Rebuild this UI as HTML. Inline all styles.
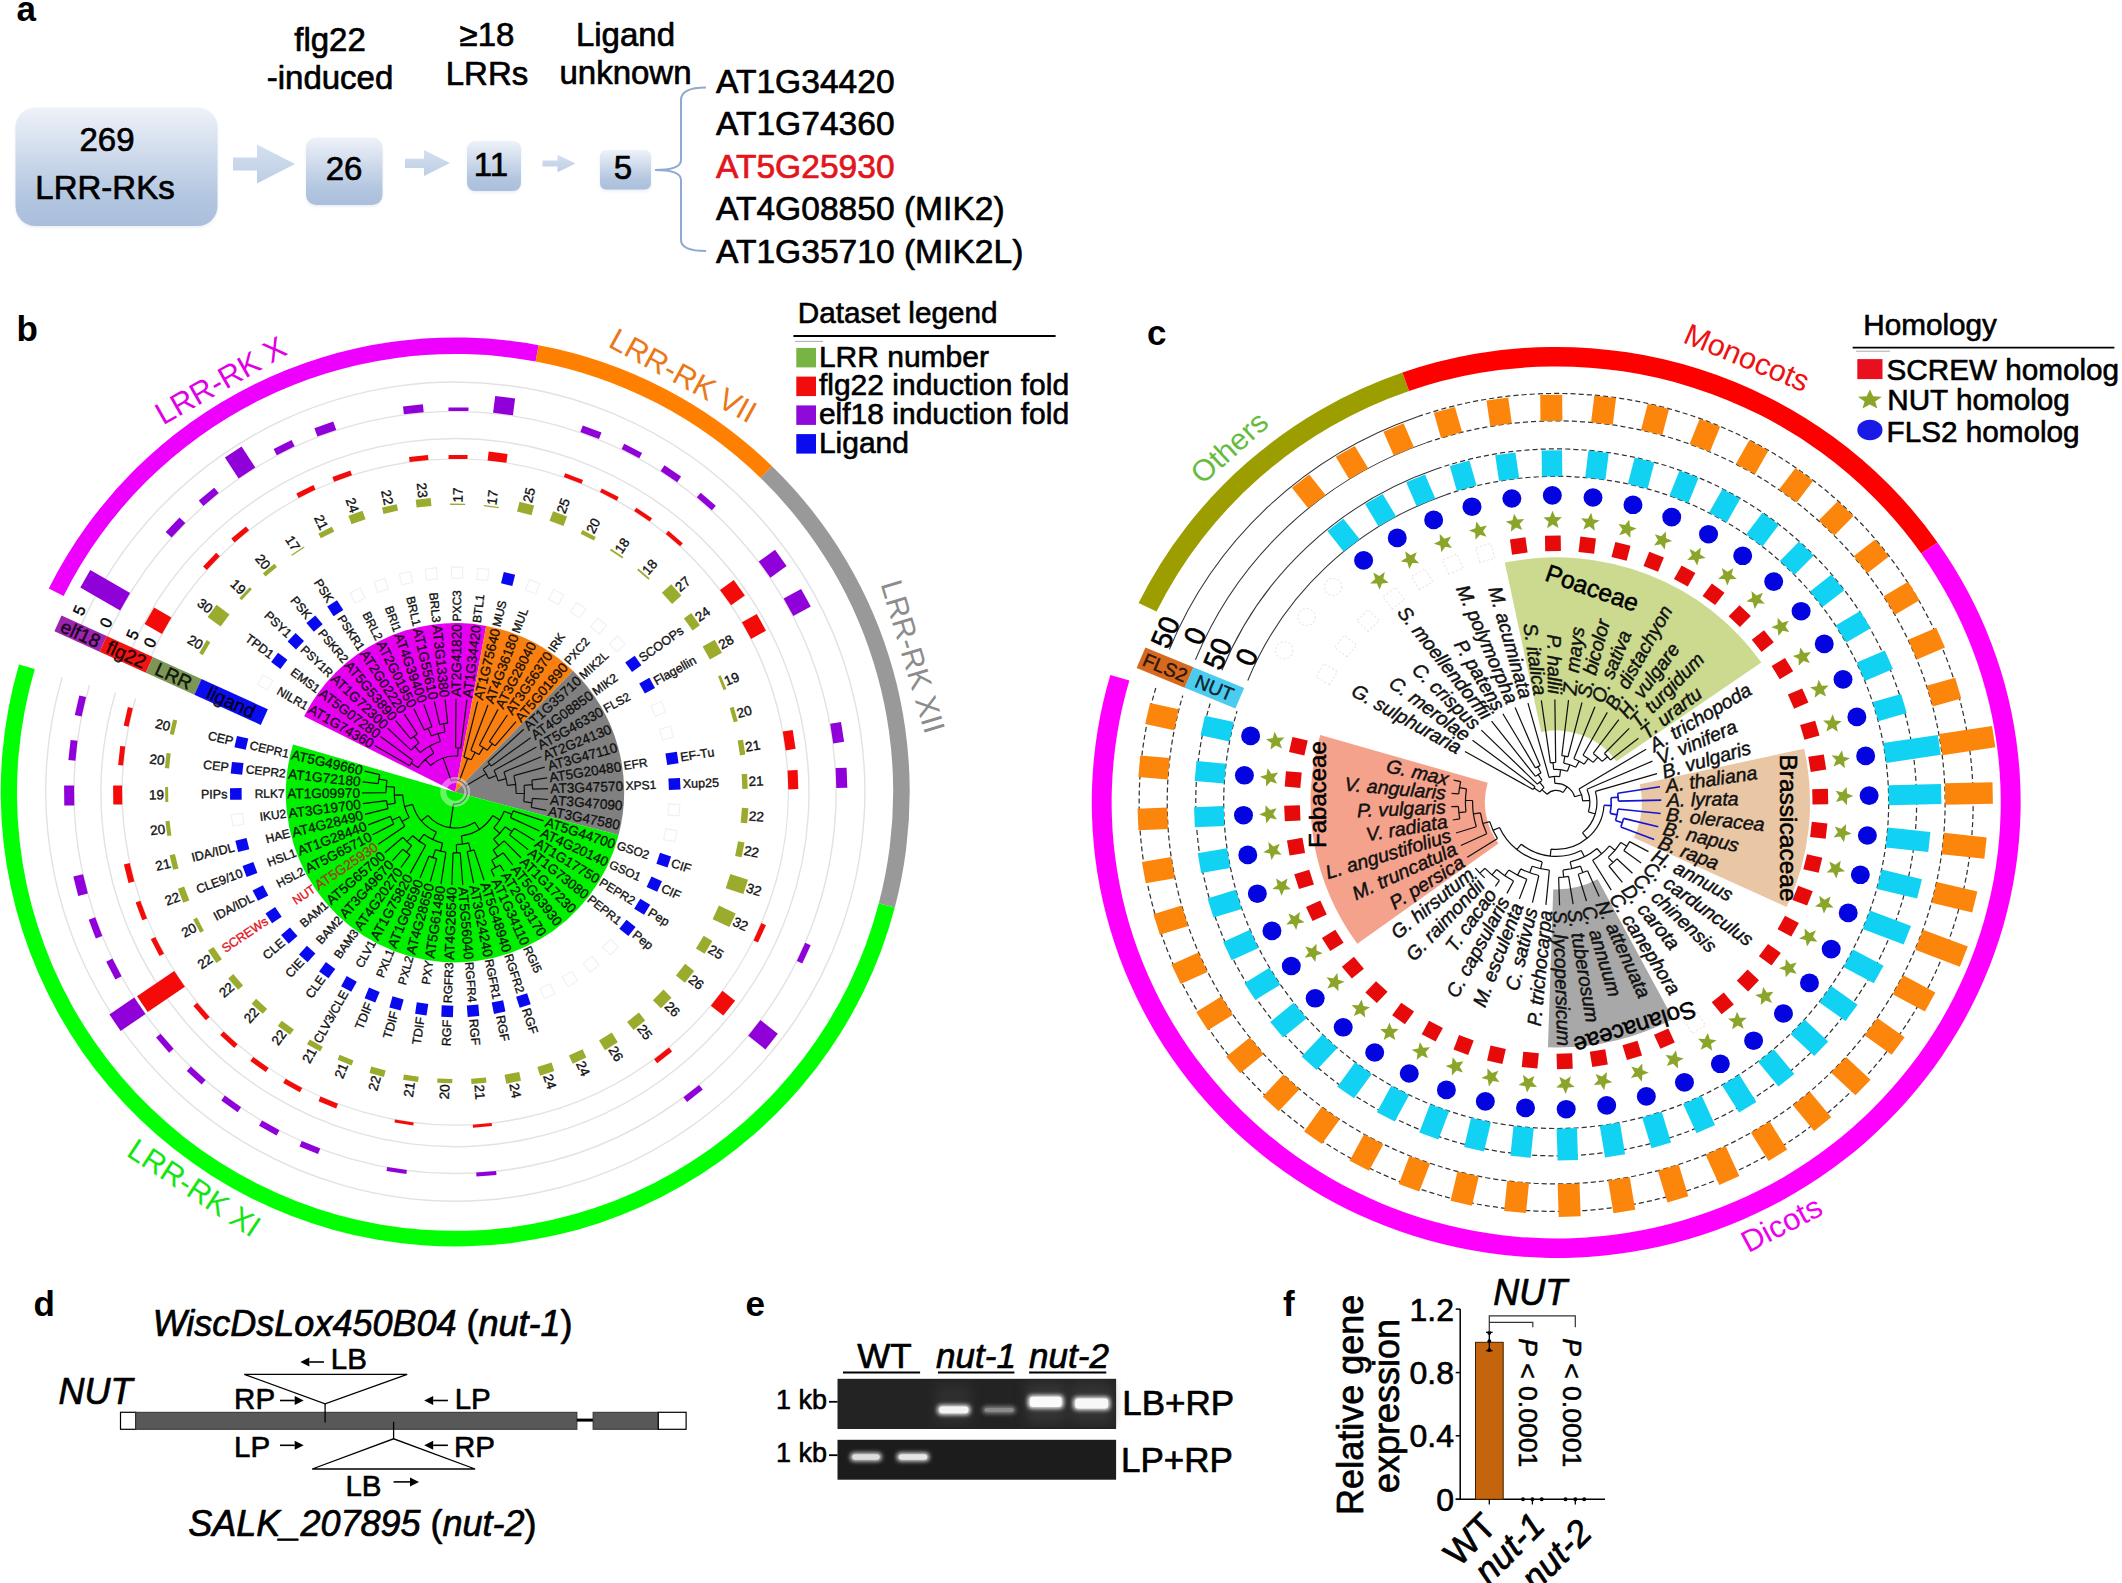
<!DOCTYPE html>
<html><head><meta charset="utf-8"><title>Figure</title>
<style>html,body{margin:0;padding:0;background:#fff;}svg{display:block;}
text{font-family:"Liberation Sans",Arial,sans-serif;}</style></head>
<body><svg width="2122" height="1583" viewBox="0 0 2122 1583">
<rect width="2122" height="1583" fill="#fff"/>
<defs><linearGradient id="gbox" x1="0" y1="0" x2="0" y2="1"><stop offset="0" stop-color="#eef2f9"/><stop offset="0.75" stop-color="#b3c6e0"/><stop offset="1" stop-color="#aabfdc"/></linearGradient><linearGradient id="garr" x1="0" y1="0" x2="0" y2="1"><stop offset="0" stop-color="#d5e0ef"/><stop offset="1" stop-color="#bccde5"/></linearGradient><filter id="soft" x="-10%" y="-10%" width="120%" height="130%"><feGaussianBlur stdDeviation="1.5"/></filter></defs>
<text x="16.5" y="20.5" font-size="35" font-weight="bold">a</text>
<rect x="15.5" y="109.5" width="202" height="118.5" rx="20" fill="#dfe6f1" opacity="0.6" filter="url(#soft)"/>
<rect x="15.5" y="107.5" width="202" height="118.5" rx="20" fill="url(#gbox)"/>
<rect x="306" y="139.5" width="76.5" height="67.5" rx="10" fill="#dfe6f1" opacity="0.6" filter="url(#soft)"/>
<rect x="306" y="137.5" width="76.5" height="67.5" rx="10" fill="url(#gbox)"/>
<rect x="467" y="143" width="54" height="50" rx="8" fill="#dfe6f1" opacity="0.6" filter="url(#soft)"/>
<rect x="467" y="141" width="54" height="50" rx="8" fill="url(#gbox)"/>
<rect x="600" y="152" width="51" height="39.5" rx="6" fill="#dfe6f1" opacity="0.6" filter="url(#soft)"/>
<rect x="600" y="150" width="51" height="39.5" rx="6" fill="url(#gbox)"/>
<path d="M233,157.5 L257,157.5 L257,144.5 L295,164 L257,183.5 L257,170.5 L233,170.5 Z" fill="url(#garr)"/>
<path d="M405,158.8 L424,158.8 L424,150 L450,163 L424,176 L424,168 L405,168 Z" fill="url(#garr)"/>
<path d="M542.5,160.6 L557.5,160.6 L557.5,154.8 L575.5,163.6 L557.5,172.3 L557.5,166.6 L542.5,166.6 Z" fill="url(#garr)"/>
<text x="107" y="151" font-size="33" text-anchor="middle" stroke="#000" stroke-width="0.68" stroke-linejoin="round">269</text>
<text x="105" y="199" font-size="33" text-anchor="middle" stroke="#000" stroke-width="0.68" stroke-linejoin="round">LRR-RKs</text>
<text x="344" y="180" font-size="33" text-anchor="middle" stroke="#000" stroke-width="0.68" stroke-linejoin="round">26</text>
<text x="491" y="176" font-size="33" text-anchor="middle" stroke="#000" stroke-width="0.68" stroke-linejoin="round">11</text>
<text x="623" y="179" font-size="33" text-anchor="middle" stroke="#000" stroke-width="0.68" stroke-linejoin="round">5</text>
<text x="330" y="51" font-size="33" text-anchor="middle" stroke="#000" stroke-width="0.68" stroke-linejoin="round">flg22</text>
<text x="330" y="89" font-size="33" text-anchor="middle" stroke="#000" stroke-width="0.68" stroke-linejoin="round">-induced</text>
<text x="487" y="46" font-size="33" text-anchor="middle" stroke="#000" stroke-width="0.68" stroke-linejoin="round">≥18</text>
<text x="487" y="85" font-size="33" text-anchor="middle" stroke="#000" stroke-width="0.68" stroke-linejoin="round">LRRs</text>
<text x="625.5" y="46" font-size="33" text-anchor="middle" stroke="#000" stroke-width="0.68" stroke-linejoin="round">Ligand</text>
<text x="625.5" y="84" font-size="33" text-anchor="middle" stroke="#000" stroke-width="0.68" stroke-linejoin="round">unknown</text>
<text x="716" y="92.5" font-size="33.6" fill="#000" stroke="#000" stroke-width="0.69" stroke-linejoin="round">AT1G34420</text>
<text x="716" y="135" font-size="33.6" fill="#000" stroke="#000" stroke-width="0.69" stroke-linejoin="round">AT1G74360</text>
<text x="716" y="177.5" font-size="33.6" fill="#e3151b" stroke="#e3151b" stroke-width="0.69" stroke-linejoin="round">AT5G25930</text>
<text x="716" y="220" font-size="33.6" fill="#000" stroke="#000" stroke-width="0.69" stroke-linejoin="round">AT4G08850 (MIK2)</text>
<text x="716" y="262.5" font-size="33.6" fill="#000" stroke="#000" stroke-width="0.69" stroke-linejoin="round">AT1G35710 (MIK2L)</text>
<path d="M706,87.5 Q681,87.5 681,100 L681,160 Q681,170 655,170 Q681,170 681,180 L681,240 Q681,251 706,251" fill="none" stroke="#8fa9cf" stroke-width="2"/>
<text x="16.5" y="341" font-size="35" font-weight="bold">b</text>
<path d="M455.2,792 L304.1,716.3 A169,169 0 0 1 486.2,625.9 Z" fill="#e600f0" />
<path d="M455.2,792 L486.2,625.9 A169,169 0 0 1 573,670.8 Z" fill="#f98010" />
<path d="M455.2,792 L573,670.8 A169,169 0 0 1 618.6,835 Z" fill="#808080" />
<path d="M455.2,792 L618.6,835 A169,169 0 1 1 293,744.6 Z" fill="#00f000" />
<path d="M48.8,588.5 A454.5,454.5 0 0 1 538.6,345.2 L535.6,361.4 A438,438 0 0 0 63.6,595.9 Z" fill="#ee00ff" />
<path d="M538.6,345.2 A454.5,454.5 0 0 1 772.1,466.2 L760.6,478 A438,438 0 0 0 535.6,361.4 Z" fill="#ff8000" />
<path d="M772.1,466.2 A454.5,454.5 0 0 1 894.8,907.5 L878.8,903.3 A438,438 0 0 0 760.6,478 Z" fill="#999999" />
<path d="M894.8,907.5 A454.5,454.5 0 1 1 19,664.4 L34.8,669.1 A438,438 0 1 0 878.8,903.3 Z" fill="#00ff00" />
<path d="M148.2,663 A333,333 0 1 1 135.6,698.5" fill="none" stroke="#e2e2e2" stroke-width="1.4"/>
<path d="M128.9,654.8 A354,354 0 1 1 115.4,692.6" fill="none" stroke="#e2e2e2" stroke-width="1.4"/>
<path d="M104,644.4 A381,381 0 1 1 89.5,685.1" fill="none" stroke="#e2e2e2" stroke-width="1.4"/>
<path d="M77.7,633.3 A409.5,409.5 0 1 1 62.2,677.1" fill="none" stroke="#e2e2e2" stroke-width="1.4"/>
<path d="M409.6,765.7L374.6,745.6 M413,760.6L380.6,736.4 M409.6,765.7 A52.6,52.6 0 0 1 413,760.6 M418.2,767.7L411.2,763.1 M411,750.1L387.6,728.1 M410.8,738.9L395.6,720.6 M417.4,734.1L404.4,714.1 M410.8,738.9 A69.2,69.2 0 0 1 417.4,734.1 M419,743L414,736.4 M411,750.1 A60.9,60.9 0 0 1 419,743 M420.3,752.6L414.8,746.4 M424.4,730L413.8,708.7 M431.9,726.8L423.9,704.4 M424.4,730 A69.2,69.2 0 0 1 431.9,726.8 M431.4,736L428.1,728.3 M439.7,724.6L434.3,701.4 M447.7,723.2L445.1,699.6 M439.7,724.6 A69.2,69.2 0 0 1 447.7,723.2 M445,732L443.7,723.8 M431.4,736 A60.9,60.9 0 0 1 445,732 M440.4,741.5L438.1,733.6 M420.3,752.6 A52.6,52.6 0 0 1 440.4,741.5 M433.8,753.2L429.8,746 M418.2,767.7 A44.3,44.3 0 0 1 433.8,753.2 M430.7,765.6L425.1,759.5 M455.6,747.7L456,699 M460.8,748.1L466.9,699.7 M455.6,747.7 A44.3,44.3 0 0 1 460.8,748.1 M457.6,756.1L458.2,747.8 M430.7,765.6 A36,36 0 0 1 457.6,756.1 M451.2,780.7L443.2,758.1 M463.9,757.1L477.6,701.7 M470.8,750.5L488,705 M479.4,745.3L498,709.4 M489.4,741.6L507.4,715 M495,745.9L516,721.6 M489.4,741.6 A60.9,60.9 0 0 1 495,745.9 M487.2,750.3L492.3,743.7 M479.4,745.3 A52.6,52.6 0 0 1 487.2,750.3 M479,754.6L483.4,747.6 M470.8,750.5 A44.3,44.3 0 0 1 479,754.6 M471.3,759.8L475,752.4 M463.9,757.1 A36,36 0 0 1 471.3,759.8 M459.4,780.7L467.7,758.2 M487.9,762.1L523.8,729.2 M491.2,766.1L530.7,737.7 M487.9,762.1 A44.3,44.3 0 0 1 491.2,766.1 M483.1,769.3L489.6,764.1 M494,770.5L536.5,746.9 M503.9,772.1L541.3,756.8 M513.9,775.7L544.8,767.1 M531.8,780.1L547.1,777.8 M532.6,789.2L548.1,788.6 M531.8,780.1 A77.5,77.5 0 0 1 532.6,789.2 M524.1,785.4L532.3,784.6 M532.4,798.3L547.9,799.5 M531.2,807.3L546.4,810.3 M532.4,798.3 A77.5,77.5 0 0 1 531.2,807.3 M523.7,801.6L531.9,802.8 M524.1,785.4 A69.2,69.2 0 0 1 523.7,801.6 M516.1,793.4L524.4,793.5 M513.9,775.7 A60.9,60.9 0 0 1 516.1,793.4 M507.4,785.5L515.6,784.4 M503.9,772.1 A52.6,52.6 0 0 1 507.4,785.5 M498.1,780.8L506.1,778.7 M494,770.5 A44.3,44.3 0 0 1 498.1,780.8 M488.6,778.6L496.3,775.5 M483.1,769.3 A36,36 0 0 1 488.6,778.6 M465.5,785.9L486.2,773.8 M513.1,810.9L543.6,820.9 M510.5,817.6L539.6,831 M513.1,810.9 A60.9,60.9 0 0 1 510.5,817.6 M504.2,811.2L511.9,814.3 M514.2,828.2L534.5,840.6 M509.5,834.9L528.2,849.6 M514.2,828.2 A69.2,69.2 0 0 1 509.5,834.9 M505.1,826.8L512,831.6 M504.1,840.9L521,857.7 M503.2,852.8L512.8,865 M500.1,865.1L503.9,871.2 M491.2,869.9L494.3,876.4 M500.1,865.1 A85.8,85.8 0 0 1 491.2,869.9 M491.8,860.3L495.7,867.6 M503.2,852.8 A77.5,77.5 0 0 1 491.8,860.3 M493.1,849.9L497.7,856.8 M504.1,840.9 A69.2,69.2 0 0 1 493.1,849.9 M493.6,839.2L498.9,845.7 M505.1,826.8 A60.9,60.9 0 0 1 493.6,839.2 M493.7,827.8L499.8,833.4 M504.2,811.2 A52.6,52.6 0 0 1 493.7,827.8 M492.7,815.6L499.7,820 M474.1,849.9L484.1,880.4 M467.2,851.7L473.6,883.2 M474.1,849.9 A60.9,60.9 0 0 1 467.2,851.7 M468.6,842.9L470.7,850.9 M460.2,852.7L462.8,884.7 M453,852.9L451.9,884.9 M460.2,852.7 A60.9,60.9 0 0 1 453,852.9 M456.4,844.6L456.6,852.9 M468.6,842.9 A52.6,52.6 0 0 1 456.4,844.6 M461.4,835.9L462.5,844.1 M492.7,815.6 A44.3,44.3 0 0 1 461.4,835.9 M474.8,822.2L479.3,829.2 M445.9,852.2L441,883.9 M436.7,858.7L430.3,881.6 M429,856.1L420,878.1 M436.7,858.7 A69.2,69.2 0 0 1 429,856.1 M435.5,849.6L432.8,857.5 M445.9,852.2 A60.9,60.9 0 0 1 435.5,849.6 M442.6,843.1L440.6,851.1 M425.7,845.3L410.2,873.4 M410,854.9L400.9,867.5 M402.9,849.2L392.5,860.7 M410,854.9 A77.5,77.5 0 0 1 402.9,849.2 M411.6,845.7L406.4,852.2 M402.9,837.3L384.9,852.8 M411.6,845.7 A69.2,69.2 0 0 1 402.9,837.3 M412.8,835.7L407,841.7 M425.7,845.3 A60.9,60.9 0 0 1 412.8,835.7 M423.9,834.3L419,840.9 M442.6,843.1 A52.6,52.6 0 0 1 423.9,834.3 M436.4,832.1L432.8,839.6 M404.8,826.2L378.2,844.2 M393.8,823.9L372.6,834.8 M390.5,816.4L368.2,824.9 M393.8,823.9 A69.2,69.2 0 0 1 390.5,816.4 M399.6,816.8L392,820.2 M404.8,826.2 A60.9,60.9 0 0 1 399.6,816.8 M409.2,817.6L402,821.6 M388,808.7L364.9,814.4 M386.6,800.7L362.9,803.7 M388,808.7 A69.2,69.2 0 0 1 386.6,800.7 M395.3,803.2L387.2,804.7 M386,792.6L362.2,792.8 M378.2,783.6L362.7,781.9 M379.7,774.6L364.6,771.2 M378.2,783.6 A77.5,77.5 0 0 1 379.7,774.6 M387,780.5L378.8,779.1 M386,792.6 A69.2,69.2 0 0 1 387,780.5 M394.5,787.2L386.2,786.5 M395.3,803.2 A60.9,60.9 0 0 1 394.5,787.2 M402.7,794.8L394.4,795.2 M409.2,817.6 A52.6,52.6 0 0 1 402.7,794.8 M412.6,804.3L404.7,806.6 M436.4,832.1 A44.3,44.3 0 0 1 412.6,804.3 M427.8,815.4L421.5,820.7 M474.8,822.2 A36,36 0 0 1 427.8,815.4 M453.5,803.9L450,827.6" fill="none" stroke="#111" stroke-width="1.2"/>
<path d="M451.2,780.7 A12,12 0 1 1 453.5,803.9" fill="none" stroke="#111" stroke-width="1.2"/>
<circle cx="455.2" cy="792.0" r="12" fill="none" stroke="#fff" stroke-opacity="0.4" stroke-width="6"/>
<text x="309.7" y="708.1" transform="rotate(30 309.7 708.1)" text-anchor="start" dy="0.35em" font-size="13.7" fill="#000" fill-opacity="0.85" stroke="#000" stroke-width="0.37" stroke-linejoin="round" stroke-opacity="0.85">AT1G74360</text>
<text x="307.5" y="706.8" transform="rotate(30 307.5 706.8)" text-anchor="end" dy="0.35em" font-size="12" fill="#111"  stroke="#111" stroke-width="0.34" stroke-linejoin="round">NILR1</text>
<polygon points="267.2,690.1 257.5,684.5 263.1,674.8 272.8,680.4" fill="none" stroke="#f0f0f5" stroke-width="1.1"/>
<polygon points="202.8,655.2 199.2,653.1 206.7,640.1 210.3,642.2" fill="#9aab2d" />
<text x="201.9" y="646" transform="rotate(30 201.9 646)" text-anchor="end" dy="0.35em" font-size="13.5" fill="#111"  stroke="#111" stroke-width="0.37" stroke-linejoin="round">20</text>
<polygon points="162,633.9 144.6,623.9 154.1,607.5 171.4,617.5" fill="#f50a0a" />
<polygon points="120.1,610.4 80.3,587.4 90.3,570.1 130.1,593.1" fill="#9000d8" />
<text x="320.5" y="691.6" transform="rotate(36.7 320.5 691.6)" text-anchor="start" dy="0.35em" font-size="13.7" fill="#000" fill-opacity="0.85" stroke="#000" stroke-width="0.37" stroke-linejoin="round" stroke-opacity="0.85">AT5G07280</text>
<text x="318.5" y="690.1" transform="rotate(36.7 318.5 690.1)" text-anchor="end" dy="0.35em" font-size="12" fill="#111"  stroke="#111" stroke-width="0.34" stroke-linejoin="round">EMS1</text>
<polygon points="280.4,669 271.1,662.1 278.1,652.8 287.4,659.7" fill="#0909ee" />
<text x="272.5" y="655.9" transform="rotate(36.7 272.5 655.9)" text-anchor="end" dy="0.35em" font-size="12.5" fill="#111"  stroke="#111" stroke-width="0.35" stroke-linejoin="round">TPD1</text>
<polygon points="220.6,626.5 207.6,616.9 216.5,604.8 229.5,614.5" fill="#9aab2d" />
<text x="211.1" y="610.1" transform="rotate(36.7 211.1 610.1)" text-anchor="end" dy="0.35em" font-size="13.5" fill="#111"  stroke="#111" stroke-width="0.37" stroke-linejoin="round">30</text>
<text x="333.2" y="676.5" transform="rotate(43.4 333.2 676.5)" text-anchor="start" dy="0.35em" font-size="13.7" fill="#000" fill-opacity="0.85" stroke="#000" stroke-width="0.37" stroke-linejoin="round" stroke-opacity="0.85">AT1G72300</text>
<text x="331.3" y="674.8" transform="rotate(43.4 331.3 674.8)" text-anchor="end" dy="0.35em" font-size="12" fill="#111"  stroke="#111" stroke-width="0.34" stroke-linejoin="round">PSY1R</text>
<polygon points="296,649.4 287.6,641.4 295.6,633 304,641" fill="#0909ee" />
<text x="289.7" y="635.4" transform="rotate(43.4 289.7 635.4)" text-anchor="end" dy="0.35em" font-size="12.5" fill="#111"  stroke="#111" stroke-width="0.35" stroke-linejoin="round">PSY1</text>
<polygon points="241.6,600.2 239.4,598.1 249.7,587.3 251.9,589.3" fill="#9aab2d" />
<text x="243.7" y="591.9" transform="rotate(43.4 243.7 591.9)" text-anchor="end" dy="0.35em" font-size="13.5" fill="#111"  stroke="#111" stroke-width="0.37" stroke-linejoin="round">19</text>
<polygon points="206.8,570 203.1,566.6 216.2,552.8 219.8,556.2" fill="#f50a0a" />
<polygon points="171.6,537.4 165.7,531.9 179.5,517.4 185.3,522.9" fill="#9000d8" />
<text x="347.5" y="663" transform="rotate(50.1 347.5 663)" text-anchor="start" dy="0.35em" font-size="13.7" fill="#000" fill-opacity="0.85" stroke="#000" stroke-width="0.37" stroke-linejoin="round" stroke-opacity="0.85">AT5G53890</text>
<text x="345.9" y="661.1" transform="rotate(50.1 345.9 661.1)" text-anchor="end" dy="0.35em" font-size="12" fill="#111"  stroke="#111" stroke-width="0.34" stroke-linejoin="round">PSKR2</text>
<polygon points="313.8,631.8 306.4,622.9 315.3,615.4 322.7,624.3" fill="#0909ee" />
<text x="309.2" y="617.1" transform="rotate(50.1 309.2 617.1)" text-anchor="end" dy="0.35em" font-size="12.5" fill="#111"  stroke="#111" stroke-width="0.35" stroke-linejoin="round">PSK</text>
<polygon points="265.5,576.5 262.8,573.3 274.3,563.7 277,566.9" fill="#9aab2d" />
<text x="267.8" y="567.6" transform="rotate(50.1 267.8 567.6)" text-anchor="end" dy="0.35em" font-size="13.5" fill="#111"  stroke="#111" stroke-width="0.37" stroke-linejoin="round">20</text>
<polygon points="234.5,542.5 231.3,538.6 245.9,526.5 249.1,530.3" fill="#f50a0a" />
<polygon points="203.3,506 198.8,500.6 214.2,487.8 218.7,493.1" fill="#9000d8" />
<text x="363.4" y="651.3" transform="rotate(56.9 363.4 651.3)" text-anchor="start" dy="0.35em" font-size="13.7" fill="#000" fill-opacity="0.85" stroke="#000" stroke-width="0.37" stroke-linejoin="round" stroke-opacity="0.85">AT2G02220</text>
<text x="362" y="649.2" transform="rotate(56.9 362 649.2)" text-anchor="end" dy="0.35em" font-size="12" fill="#111"  stroke="#111" stroke-width="0.34" stroke-linejoin="round">PSKR1</text>
<polygon points="333.6,616.3 327.2,606.6 337,600.3 343.3,610" fill="#0909ee" />
<text x="330.7" y="601.2" transform="rotate(56.9 330.7 601.2)" text-anchor="end" dy="0.35em" font-size="12.5" fill="#111"  stroke="#111" stroke-width="0.35" stroke-linejoin="round">PSK</text>
<polygon points="292,555.8 291.3,554.7 303.9,546.5 304.6,547.6" fill="#9aab2d" />
<text x="296.9" y="549.6" transform="rotate(56.9 296.9 549.6)" text-anchor="end" dy="0.35em" font-size="13.5" fill="#111"  stroke="#111" stroke-width="0.37" stroke-linejoin="round">17</text>
<polygon points="238.6,478.4 224.9,457.5 241.6,446.6 255.3,467.5" fill="#9000d8" />
<text x="380.5" y="641.5" transform="rotate(63.6 380.5 641.5)" text-anchor="start" dy="0.35em" font-size="13.7" fill="#000" fill-opacity="0.85" stroke="#000" stroke-width="0.37" stroke-linejoin="round" stroke-opacity="0.85">AT2G01950</text>
<text x="379.4" y="639.3" transform="rotate(63.6 379.4 639.3)" text-anchor="end" dy="0.35em" font-size="12" fill="#111"  stroke="#111" stroke-width="0.34" stroke-linejoin="round">BRL2</text>
<polygon points="355.1,603 350.1,593 360.1,588 365.1,598" fill="none" stroke="#f0f0f5" stroke-width="1.1"/>
<polygon points="320.8,538.3 318.4,533.5 331.8,526.8 334.3,531.6" fill="#9aab2d" />
<text x="324.6" y="529" transform="rotate(63.6 324.6 529)" text-anchor="end" dy="0.35em" font-size="13.5" fill="#111"  stroke="#111" stroke-width="0.37" stroke-linejoin="round">21</text>
<polygon points="298.6,498 296.3,493.5 313.4,485.1 315.6,489.5" fill="#f50a0a" />
<polygon points="276.8,455.2 273.6,448.9 291.6,440.1 294.7,446.3" fill="#9000d8" />
<text x="398.6" y="633.8" transform="rotate(70.3 398.6 633.8)" text-anchor="start" dy="0.35em" font-size="13.7" fill="#000" fill-opacity="0.85" stroke="#000" stroke-width="0.37" stroke-linejoin="round" stroke-opacity="0.85">AT4G39400</text>
<text x="397.8" y="631.5" transform="rotate(70.3 397.8 631.5)" text-anchor="end" dy="0.35em" font-size="12" fill="#111"  stroke="#111" stroke-width="0.34" stroke-linejoin="round">BRI1</text>
<polygon points="377.9,592.6 374.1,582 384.7,578.3 388.4,588.8" fill="none" stroke="#f0f0f5" stroke-width="1.1"/>
<polygon points="351.5,524.3 348.4,515.8 362.5,510.8 365.6,519.3" fill="#9aab2d" />
<text x="355.1" y="512.2" transform="rotate(70.3 355.1 512.2)" text-anchor="end" dy="0.35em" font-size="13.5" fill="#111"  stroke="#111" stroke-width="0.37" stroke-linejoin="round">24</text>
<polygon points="334.1,481.7 332.4,477 350.3,470.6 352,475.3" fill="#f50a0a" />
<polygon points="317.4,436.6 314.4,428.2 333.2,421.4 336.3,429.9" fill="#9000d8" />
<text x="417.5" y="628.3" transform="rotate(77 417.5 628.3)" text-anchor="start" dy="0.35em" font-size="13.7" fill="#000" fill-opacity="0.85" stroke="#000" stroke-width="0.37" stroke-linejoin="round" stroke-opacity="0.85">AT1G55610</text>
<text x="417" y="625.8" transform="rotate(77 417 625.8)" text-anchor="end" dy="0.35em" font-size="12" fill="#111"  stroke="#111" stroke-width="0.34" stroke-linejoin="round">BRL1</text>
<polygon points="401.8,584.9 399.3,574 410.2,571.5 412.7,582.4" fill="none" stroke="#f0f0f5" stroke-width="1.1"/>
<polygon points="383.5,514 382,507.6 396.7,504.2 398.1,510.6" fill="#9aab2d" />
<text x="389.1" y="504.7" transform="rotate(77 389.1 504.7)" text-anchor="end" dy="0.35em" font-size="13.5" fill="#111"  stroke="#111" stroke-width="0.37" stroke-linejoin="round">22</text>
<text x="436.9" y="625" transform="rotate(83.8 436.9 625)" text-anchor="start" dy="0.35em" font-size="13.7" fill="#000" fill-opacity="0.85" stroke="#000" stroke-width="0.37" stroke-linejoin="round" stroke-opacity="0.85">AT3G13380</text>
<text x="436.7" y="622.5" transform="rotate(83.8 436.7 622.5)" text-anchor="end" dy="0.35em" font-size="12" fill="#111"  stroke="#111" stroke-width="0.34" stroke-linejoin="round">BRL3</text>
<polygon points="426.4,580.1 425.2,568.9 436.3,567.7 437.5,578.9" fill="none" stroke="#f0f0f5" stroke-width="1.1"/>
<polygon points="416.6,507.5 415.7,499.8 430.6,498.1 431.5,505.9" fill="#9aab2d" />
<text x="423" y="497.8" transform="rotate(83.8 423 497.8)" text-anchor="end" dy="0.35em" font-size="13.5" fill="#111"  stroke="#111" stroke-width="0.37" stroke-linejoin="round">23</text>
<polygon points="409.6,462 409,457 427.9,455 428.5,459.9" fill="#f50a0a" />
<polygon points="403.9,414.3 403,406.4 422.9,404.2 423.7,412.2" fill="#9000d8" />
<text x="456.6" y="624" transform="rotate(-89.5 456.6 624)" text-anchor="end" dy="0.35em" font-size="13.7" fill="#000" fill-opacity="0.85" stroke="#000" stroke-width="0.37" stroke-linejoin="round" stroke-opacity="0.85">AT2G41820</text>
<text x="456.7" y="621.5" transform="rotate(-89.5 456.7 621.5)" text-anchor="start" dy="0.35em" font-size="12" fill="#111"  stroke="#111" stroke-width="0.34" stroke-linejoin="round">PXC3</text>
<polygon points="451.4,578.2 451.5,567 462.7,567.1 462.6,578.3" fill="none" stroke="#f0f0f5" stroke-width="1.1"/>
<polygon points="450.1,504.9 450.2,503.6 465.2,503.8 465.1,505.1" fill="#9aab2d" />
<text x="457.7" y="502.5" transform="rotate(-89.5 457.7 502.5)" text-anchor="start" dy="0.35em" font-size="13.5" fill="#111"  stroke="#111" stroke-width="0.37" stroke-linejoin="round">17</text>
<polygon points="448.5,458.9 448.6,454.9 467.6,455.1 467.5,459.1" fill="#f50a0a" />
<polygon points="448.4,410.9 448.5,407.4 468.5,407.6 468.4,411.1" fill="#9000d8" />
<text x="476.3" y="625.3" transform="rotate(-82.8 476.3 625.3)" text-anchor="end" dy="0.35em" font-size="13.7" fill="#000" fill-opacity="0.85" stroke="#000" stroke-width="0.37" stroke-linejoin="round" stroke-opacity="0.85">AT1G34420</text>
<text x="476.6" y="622.8" transform="rotate(-82.8 476.6 622.8)" text-anchor="start" dy="0.35em" font-size="12" fill="#111"  stroke="#111" stroke-width="0.34" stroke-linejoin="round">BTL1</text>
<polygon points="476.5,579.2 477.9,568.1 489,569.5 487.6,580.6" fill="none" stroke="#f0f0f5" stroke-width="1.1"/>
<polygon points="483.8,506.3 484,505 498.8,506.9 498.7,508.2" fill="#9aab2d" />
<text x="491.5" y="504.8" transform="rotate(-82.8 491.5 504.8)" text-anchor="start" dy="0.35em" font-size="13.5" fill="#111"  stroke="#111" stroke-width="0.37" stroke-linejoin="round">17</text>
<polygon points="487.6,460.4 488.7,451.5 507.6,453.9 506.4,462.8" fill="#f50a0a" />
<polygon points="493.1,412.8 495.2,395.9 515.1,398.4 513,415.3" fill="#9000d8" />
<text x="495.7" y="628.9" transform="rotate(-76.1 495.7 628.9)" text-anchor="end" dy="0.35em" font-size="13.7" fill="#000" fill-opacity="0.85" stroke="#000" stroke-width="0.37" stroke-linejoin="round" stroke-opacity="0.85">AT1G75640</text>
<text x="496.3" y="626.5" transform="rotate(-76.1 496.3 626.5)" text-anchor="start" dy="0.35em" font-size="12" fill="#111"  stroke="#111" stroke-width="0.34" stroke-linejoin="round">MUS</text>
<polygon points="501,583.3 503.8,572 515.1,574.8 512.3,586.1" fill="#0909ee" />
<polygon points="517,511.6 519.5,501.7 534.1,505.4 531.6,515.3" fill="#9aab2d" />
<text x="527.1" y="502.4" transform="rotate(-76.1 527.1 502.4)" text-anchor="start" dy="0.35em" font-size="13.5" fill="#111"  stroke="#111" stroke-width="0.37" stroke-linejoin="round">25</text>
<text x="514.5" y="634.8" transform="rotate(-69.3 514.5 634.8)" text-anchor="end" dy="0.35em" font-size="13.7" fill="#000" fill-opacity="0.85" stroke="#000" stroke-width="0.37" stroke-linejoin="round" stroke-opacity="0.85">AT4G36180</text>
<text x="515.4" y="632.5" transform="rotate(-69.3 515.4 632.5)" text-anchor="start" dy="0.35em" font-size="12" fill="#111"  stroke="#111" stroke-width="0.34" stroke-linejoin="round">MUL</text>
<polygon points="525.4,590 529.4,579.5 539.8,583.4 535.9,593.9" fill="none" stroke="#f0f0f5" stroke-width="1.1"/>
<polygon points="549.5,520.8 553.1,511.3 567.1,516.6 563.5,526.1" fill="#9aab2d" />
<text x="560.5" y="512.8" transform="rotate(-69.3 560.5 512.8)" text-anchor="start" dy="0.35em" font-size="13.5" fill="#111"  stroke="#111" stroke-width="0.37" stroke-linejoin="round">25</text>
<polygon points="563.8,477.1 565.2,473.3 583,480 581.6,483.8" fill="#f50a0a" />
<polygon points="580.3,432 582.8,425.4 601.5,432.5 599,439" fill="#9000d8" />
<text x="532.5" y="642.8" transform="rotate(-62.6 532.5 642.8)" text-anchor="end" dy="0.35em" font-size="13.7" fill="#000" fill-opacity="0.85" stroke="#000" stroke-width="0.37" stroke-linejoin="round" stroke-opacity="0.85">AT3G28040</text>
<polygon points="548.6,599.6 553.7,589.6 563.7,594.8 558.5,604.7" fill="none" stroke="#f0f0f5" stroke-width="1.1"/>
<polygon points="580.6,533.7 582.5,530 595.8,536.9 593.9,540.6" fill="#9aab2d" />
<text x="589.7" y="532.4" transform="rotate(-62.6 589.7 532.4)" text-anchor="start" dy="0.35em" font-size="13.5" fill="#111"  stroke="#111" stroke-width="0.37" stroke-linejoin="round">20</text>
<polygon points="599.9,492 601.8,488.4 618.7,497.1 616.8,500.7" fill="#f50a0a" />
<polygon points="621.6,449.1 624.3,443.8 642.1,453 639.3,458.3" fill="#9000d8" />
<text x="549.4" y="652.9" transform="rotate(-55.9 549.4 652.9)" text-anchor="end" dy="0.35em" font-size="13.7" fill="#000" fill-opacity="0.85" stroke="#000" stroke-width="0.37" stroke-linejoin="round" stroke-opacity="0.85">AT3G56370</text>
<text x="550.8" y="650.8" transform="rotate(-55.9 550.8 650.8)" text-anchor="start" dy="0.35em" font-size="12" fill="#111"  stroke="#111" stroke-width="0.34" stroke-linejoin="round">IRK</text>
<polygon points="570.5,611.8 576.7,602.6 586,608.9 579.7,618.1" fill="none" stroke="#f0f0f5" stroke-width="1.1"/>
<polygon points="609.9,550.2 611,548.7 623.4,557.1 622.4,558.6" fill="#9aab2d" />
<text x="617.8" y="551.9" transform="rotate(-55.9 617.8 551.9)" text-anchor="start" dy="0.35em" font-size="13.5" fill="#111"  stroke="#111" stroke-width="0.37" stroke-linejoin="round">18</text>
<polygon points="634.1,511 636.3,507.7 652.1,518.3 649.8,521.6" fill="#f50a0a" />
<polygon points="660.6,470.9 664.5,465.2 681.1,476.4 677.2,482.2" fill="#9000d8" />
<text x="565.1" y="664.9" transform="rotate(-49.2 565.1 664.9)" text-anchor="end" dy="0.35em" font-size="13.7" fill="#000" fill-opacity="0.85" stroke="#000" stroke-width="0.37" stroke-linejoin="round" stroke-opacity="0.85">AT5G01890</text>
<text x="566.7" y="663" transform="rotate(-49.2 566.7 663)" text-anchor="start" dy="0.35em" font-size="12" fill="#111"  stroke="#111" stroke-width="0.34" stroke-linejoin="round">PXC2</text>
<polygon points="590.8,626.6 598.1,618.1 606.6,625.4 599.2,633.9" fill="none" stroke="#f0f0f5" stroke-width="1.1"/>
<polygon points="637.2,570 638.4,568.6 649.7,578.4 648.5,579.8" fill="#9aab2d" />
<text x="644.8" y="572.6" transform="rotate(-49.2 644.8 572.6)" text-anchor="start" dy="0.35em" font-size="13.5" fill="#111"  stroke="#111" stroke-width="0.37" stroke-linejoin="round">18</text>
<polygon points="665.8,533.9 668.4,530.8 682.8,543.2 680.1,546.3" fill="#f50a0a" />
<polygon points="696.8,497.2 700.7,492.7 715.8,505.7 711.9,510.3" fill="#9000d8" />
<text x="579.2" y="678.6" transform="rotate(-42.4 579.2 678.6)" text-anchor="end" dy="0.35em" font-size="13.7" fill="#000" fill-opacity="0.85" stroke="#000" stroke-width="0.37" stroke-linejoin="round" stroke-opacity="0.85">AT1G35710</text>
<text x="581" y="676.9" transform="rotate(-42.4 581 676.9)" text-anchor="start" dy="0.35em" font-size="12" fill="#111"  stroke="#111" stroke-width="0.34" stroke-linejoin="round">MIK2L</text>
<polygon points="609.2,643.6 617.5,636 625,644.3 616.8,651.9" fill="none" stroke="#f0f0f5" stroke-width="1.1"/>
<polygon points="661.9,592.8 671.2,584.3 681.4,595.4 672.1,603.9" fill="#9aab2d" />
<text x="677.2" y="589" transform="rotate(-42.4 677.2 589)" text-anchor="start" dy="0.35em" font-size="13.5" fill="#111"  stroke="#111" stroke-width="0.37" stroke-linejoin="round">27</text>
<text x="591.6" y="693.9" transform="rotate(-35.7 591.6 693.9)" text-anchor="end" dy="0.35em" font-size="13.7" fill="#000" fill-opacity="0.85" stroke="#000" stroke-width="0.37" stroke-linejoin="round" stroke-opacity="0.85">AT4G08850</text>
<text x="593.6" y="692.5" transform="rotate(-35.7 593.6 692.5)" text-anchor="start" dy="0.35em" font-size="12" fill="#111"  stroke="#111" stroke-width="0.34" stroke-linejoin="round">MIK2</text>
<polygon points="625.2,662.6 634.7,655.8 641.4,665.3 632,672" fill="#0909ee" />
<text x="640.2" y="659" transform="rotate(-35.7 640.2 659)" text-anchor="start" dy="0.35em" font-size="12.5" fill="#111"  stroke="#111" stroke-width="0.35" stroke-linejoin="round">SCOOPs</text>
<polygon points="683.9,618.4 691.2,613.1 699.9,625.3 692.6,630.6" fill="#9aab2d" />
<text x="696.5" y="618.5" transform="rotate(-35.7 696.5 618.5)" text-anchor="start" dy="0.35em" font-size="13.5" fill="#111"  stroke="#111" stroke-width="0.37" stroke-linejoin="round">24</text>
<polygon points="720,589.9 733.8,580 744.9,595.4 731.1,605.3" fill="#f50a0a" />
<polygon points="758.7,561.5 775,549.8 786.6,566 770.4,577.7" fill="#9000d8" />
<text x="602.2" y="710.6" transform="rotate(-29 602.2 710.6)" text-anchor="end" dy="0.35em" font-size="13.7" fill="#000" fill-opacity="0.85" stroke="#000" stroke-width="0.37" stroke-linejoin="round" stroke-opacity="0.85">AT5G46330</text>
<text x="604.3" y="709.4" transform="rotate(-29 604.3 709.4)" text-anchor="start" dy="0.35em" font-size="12" fill="#111"  stroke="#111" stroke-width="0.34" stroke-linejoin="round">FLS2</text>
<polygon points="639.2,683.4 649.4,677.8 655,687.9 644.9,693.6" fill="#0909ee" />
<text x="654.5" y="681.6" transform="rotate(-29 654.5 681.6)" text-anchor="start" dy="0.35em" font-size="12.5" fill="#111"  stroke="#111" stroke-width="0.35" stroke-linejoin="round">Flagellin</text>
<polygon points="702.6,646.4 714.7,639.7 722,652.8 709.9,659.5" fill="#9aab2d" />
<text x="719.4" y="645.6" transform="rotate(-29 719.4 645.6)" text-anchor="start" dy="0.35em" font-size="13.5" fill="#111"  stroke="#111" stroke-width="0.37" stroke-linejoin="round">28</text>
<polygon points="741.9,622.3 756.8,614.1 766,630.7 751.1,638.9" fill="#f50a0a" />
<polygon points="783.6,598.6 801.1,588.9 810.8,606.4 793.3,616.1" fill="#9000d8" />
<text x="610.7" y="728.4" transform="rotate(-22.3 610.7 728.4)" text-anchor="end" dy="0.35em" font-size="13.7" fill="#000" fill-opacity="0.85" stroke="#000" stroke-width="0.37" stroke-linejoin="round" stroke-opacity="0.85">AT2G24130</text>
<polygon points="650.9,705.8 661.3,701.6 665.5,711.9 655.2,716.2" fill="none" stroke="#f0f0f5" stroke-width="1.1"/>
<polygon points="718,676.3 720.7,675.2 726.4,689.1 723.6,690.2" fill="#9aab2d" />
<text x="724.7" y="681.7" transform="rotate(-22.3 724.7 681.7)" text-anchor="start" dy="0.35em" font-size="13.5" fill="#111"  stroke="#111" stroke-width="0.37" stroke-linejoin="round">19</text>
<text x="617.1" y="747" transform="rotate(-15.5 617.1 747)" text-anchor="end" dy="0.35em" font-size="13.7" fill="#000" fill-opacity="0.85" stroke="#000" stroke-width="0.37" stroke-linejoin="round" stroke-opacity="0.85">AT3G47110</text>
<polygon points="659.7,729.3 670.5,726.3 673.5,737.1 662.7,740.1" fill="none" stroke="#f0f0f5" stroke-width="1.1"/>
<polygon points="729.7,707.9 733.7,706.8 737.8,721.2 733.7,722.3" fill="#9aab2d" />
<text x="736.9" y="713.7" transform="rotate(-15.5 736.9 713.7)" text-anchor="start" dy="0.35em" font-size="13.5" fill="#111"  stroke="#111" stroke-width="0.37" stroke-linejoin="round">20</text>
<text x="621.2" y="766.3" transform="rotate(-8.8 621.2 766.3)" text-anchor="end" dy="0.35em" font-size="13.7" fill="#000" fill-opacity="0.85" stroke="#000" stroke-width="0.37" stroke-linejoin="round" stroke-opacity="0.85">AT5G20480</text>
<text x="623.7" y="765.9" transform="rotate(-8.8 623.7 765.9)" text-anchor="start" dy="0.35em" font-size="12" fill="#111"  stroke="#111" stroke-width="0.34" stroke-linejoin="round">EFR</text>
<polygon points="665.4,753.5 676.9,751.8 678.6,763.2 667.2,765" fill="#0909ee" />
<text x="680.3" y="757.1" transform="rotate(-8.8 680.3 757.1)" text-anchor="start" dy="0.35em" font-size="12.5" fill="#111"  stroke="#111" stroke-width="0.35" stroke-linejoin="round">EF-Tu</text>
<polygon points="737.7,740.6 743,739.8 745.3,754.6 740,755.4" fill="#9aab2d" />
<text x="745.3" y="747" transform="rotate(-8.8 745.3 747)" text-anchor="start" dy="0.35em" font-size="13.5" fill="#111"  stroke="#111" stroke-width="0.37" stroke-linejoin="round">21</text>
<polygon points="782.8,731.6 792.7,730.1 795.6,748.8 785.7,750.4" fill="#f50a0a" />
<polygon points="830.2,723.7 841,722.1 844.1,741.8 833.2,743.5" fill="#9000d8" />
<text x="623.1" y="785.9" transform="rotate(-2.1 623.1 785.9)" text-anchor="end" dy="0.35em" font-size="13.7" fill="#000" fill-opacity="0.85" stroke="#000" stroke-width="0.37" stroke-linejoin="round" stroke-opacity="0.85">AT3G47570</text>
<text x="625.6" y="785.8" transform="rotate(-2.1 625.6 785.8)" text-anchor="start" dy="0.35em" font-size="12" fill="#111"  stroke="#111" stroke-width="0.34" stroke-linejoin="round">XPS1</text>
<polygon points="668.4,778.4 680,778 680.5,789.6 668.9,790" fill="#0909ee" />
<text x="682.8" y="783.7" transform="rotate(-2.1 682.8 783.7)" text-anchor="start" dy="0.35em" font-size="12.5" fill="#111"  stroke="#111" stroke-width="0.35" stroke-linejoin="round">Xup25</text>
<polygon points="741.7,774.1 747.1,773.9 747.7,788.8 742.3,789" fill="#9aab2d" />
<text x="748.6" y="781.3" transform="rotate(-2.1 748.6 781.3)" text-anchor="start" dy="0.35em" font-size="13.5" fill="#111"  stroke="#111" stroke-width="0.37" stroke-linejoin="round">21</text>
<polygon points="787.6,770.4 797.6,770 798.3,789 788.3,789.4" fill="#f50a0a" />
<polygon points="835.6,768.1 846.6,767.7 847.3,787.7 836.3,788.1" fill="#9000d8" />
<text x="622.6" y="805.6" transform="rotate(4.6 622.6 805.6)" text-anchor="end" dy="0.35em" font-size="13.7" fill="#000" fill-opacity="0.85" stroke="#000" stroke-width="0.37" stroke-linejoin="round" stroke-opacity="0.85">AT3G47090</text>
<polygon points="668.8,803.7 679.9,804.6 679,815.8 667.8,814.9" fill="none" stroke="#f0f0f5" stroke-width="1.1"/>
<polygon points="741.9,807.7 748.4,808.3 747.2,823.2 740.7,822.7" fill="#9aab2d" />
<text x="749" y="815.8" transform="rotate(4.6 749 815.8)" text-anchor="start" dy="0.35em" font-size="13.5" fill="#111"  stroke="#111" stroke-width="0.37" stroke-linejoin="round">22</text>
<text x="619.9" y="825.1" transform="rotate(11.4 619.9 825.1)" text-anchor="end" dy="0.35em" font-size="13.7" fill="#000" fill-opacity="0.85" stroke="#000" stroke-width="0.37" stroke-linejoin="round" stroke-opacity="0.85">AT3G47580</text>
<polygon points="665.9,828.6 676.9,830.8 674.7,841.8 663.7,839.6" fill="none" stroke="#f0f0f5" stroke-width="1.1"/>
<polygon points="738.1,841.2 744.5,842.5 741.6,857.2 735.1,855.9" fill="#9aab2d" />
<text x="744.2" y="850.1" transform="rotate(11.4 744.2 850.1)" text-anchor="start" dy="0.35em" font-size="13.5" fill="#111"  stroke="#111" stroke-width="0.37" stroke-linejoin="round">22</text>
<text x="614.9" y="844.2" transform="rotate(18.1 614.9 844.2)" text-anchor="end" dy="0.35em" font-size="13.7" fill="#000" fill-opacity="0.85" stroke="#000" stroke-width="0.37" stroke-linejoin="round" stroke-opacity="0.85">AT5G44700</text>
<text x="617.3" y="844.9" transform="rotate(18.1 617.3 844.9)" text-anchor="start" dy="0.35em" font-size="12" fill="#111"  stroke="#111" stroke-width="0.34" stroke-linejoin="round">GSO2</text>
<polygon points="660,852.8 671.1,856.4 667.5,867.4 656.4,863.8" fill="#0909ee" />
<text x="671.7" y="862.7" transform="rotate(18.1 671.7 862.7)" text-anchor="start" dy="0.35em" font-size="12.5" fill="#111"  stroke="#111" stroke-width="0.35" stroke-linejoin="round">CIF</text>
<polygon points="730.3,874 748,879.7 743.4,894 725.7,888.2" fill="#9aab2d" />
<text x="746.8" y="887.3" transform="rotate(18.1 746.8 887.3)" text-anchor="start" dy="0.35em" font-size="13.5" fill="#111"  stroke="#111" stroke-width="0.37" stroke-linejoin="round">32</text>
<text x="607.7" y="862.5" transform="rotate(24.8 607.7 862.5)" text-anchor="end" dy="0.35em" font-size="13.7" fill="#000" fill-opacity="0.85" stroke="#000" stroke-width="0.37" stroke-linejoin="round" stroke-opacity="0.85">AT4G20140</text>
<text x="610" y="863.6" transform="rotate(24.8 610 863.6)" text-anchor="start" dy="0.35em" font-size="12" fill="#111"  stroke="#111" stroke-width="0.34" stroke-linejoin="round">GSO1</text>
<polygon points="651.5,876.4 662,881.2 657.2,891.8 646.6,886.9" fill="#0909ee" />
<text x="662" y="887.6" transform="rotate(24.8 662 887.6)" text-anchor="start" dy="0.35em" font-size="12.5" fill="#111"  stroke="#111" stroke-width="0.35" stroke-linejoin="round">CIF</text>
<polygon points="718.9,905.6 735.7,913.4 729.4,927.1 712.6,919.2" fill="#9aab2d" />
<text x="733.7" y="920.7" transform="rotate(24.8 733.7 920.7)" text-anchor="start" dy="0.35em" font-size="13.5" fill="#111"  stroke="#111" stroke-width="0.37" stroke-linejoin="round">32</text>
<polygon points="761.4,923.1 766,925.2 758,942.5 753.5,940.4" fill="#f50a0a" />
<polygon points="805.2,942.8 810.7,945.3 802.3,963.5 796.8,961" fill="#9000d8" />
<text x="598.4" y="879.9" transform="rotate(31.5 598.4 879.9)" text-anchor="end" dy="0.35em" font-size="13.7" fill="#000" fill-opacity="0.85" stroke="#000" stroke-width="0.37" stroke-linejoin="round" stroke-opacity="0.85">AT1G17750</text>
<text x="600.5" y="881.2" transform="rotate(31.5 600.5 881.2)" text-anchor="start" dy="0.35em" font-size="12" fill="#111"  stroke="#111" stroke-width="0.34" stroke-linejoin="round">PEPR2</text>
<polygon points="640.3,898.8 650.2,904.8 644.1,914.7 634.2,908.7" fill="#0909ee" />
<text x="649.4" y="911.2" transform="rotate(31.5 649.4 911.2)" text-anchor="start" dy="0.35em" font-size="12.5" fill="#111"  stroke="#111" stroke-width="0.35" stroke-linejoin="round">Pep</text>
<polygon points="703.7,935.7 712.4,941.1 704.6,953.8 695.9,948.5" fill="#9aab2d" />
<text x="709.5" y="948.1" transform="rotate(31.5 709.5 948.1)" text-anchor="start" dy="0.35em" font-size="13.5" fill="#111"  stroke="#111" stroke-width="0.37" stroke-linejoin="round">25</text>
<text x="587.1" y="896" transform="rotate(38.3 587.1 896)" text-anchor="end" dy="0.35em" font-size="13.7" fill="#000" fill-opacity="0.85" stroke="#000" stroke-width="0.37" stroke-linejoin="round" stroke-opacity="0.85">AT1G73080</text>
<text x="589.1" y="897.6" transform="rotate(38.3 589.1 897.6)" text-anchor="start" dy="0.35em" font-size="12" fill="#111"  stroke="#111" stroke-width="0.34" stroke-linejoin="round">PEPR1</text>
<polygon points="626.5,919.7 635.6,926.9 628.4,936 619.3,928.8" fill="#0909ee" />
<text x="634.1" y="933.1" transform="rotate(38.3 634.1 933.1)" text-anchor="start" dy="0.35em" font-size="12.5" fill="#111"  stroke="#111" stroke-width="0.35" stroke-linejoin="round">Pep</text>
<polygon points="685.2,963.8 694.1,970.9 684.9,982.7 675.9,975.6" fill="#9aab2d" />
<text x="690.4" y="977.5" transform="rotate(38.3 690.4 977.5)" text-anchor="start" dy="0.35em" font-size="13.5" fill="#111"  stroke="#111" stroke-width="0.37" stroke-linejoin="round">26</text>
<polygon points="722.5,990.8 735.1,1000.7 723.3,1015.6 710.8,1005.7" fill="#f50a0a" />
<polygon points="760.5,1020.1 777.8,1033.7 765.4,1049.4 748.2,1035.8" fill="#9000d8" />
<text x="574" y="910.8" transform="rotate(45 574 910.8)" text-anchor="end" dy="0.35em" font-size="13.7" fill="#000" fill-opacity="0.85" stroke="#000" stroke-width="0.37" stroke-linejoin="round" stroke-opacity="0.85">AT1G17230</text>
<polygon points="610.4,939.2 618.3,947.1 610.4,955 602.5,947.1" fill="none" stroke="#f0f0f5" stroke-width="1.1"/>
<polygon points="663.5,989.6 671.5,997.7 660.9,1008.3 652.9,1000.2" fill="#9aab2d" />
<text x="667.1" y="1003.8" transform="rotate(45 667.1 1003.8)" text-anchor="start" dy="0.35em" font-size="13.5" fill="#111"  stroke="#111" stroke-width="0.37" stroke-linejoin="round">26</text>
<text x="559.3" y="923.9" transform="rotate(51.7 559.3 923.9)" text-anchor="end" dy="0.35em" font-size="13.7" fill="#000" fill-opacity="0.85" stroke="#000" stroke-width="0.37" stroke-linejoin="round" stroke-opacity="0.85">AT5G63930</text>
<polygon points="592.1,956.3 599,965.1 590.2,972.1 583.3,963.3" fill="none" stroke="#f0f0f5" stroke-width="1.1"/>
<polygon points="638.9,1012.6 645.2,1020.6 633.5,1029.9 627.1,1021.9" fill="#9aab2d" />
<text x="640.1" y="1026.2" transform="rotate(51.7 640.1 1026.2)" text-anchor="start" dy="0.35em" font-size="13.5" fill="#111"  stroke="#111" stroke-width="0.37" stroke-linejoin="round">25</text>
<polygon points="669,1047.5 672.1,1051.4 657.2,1063.2 654.1,1059.3" fill="#f50a0a" />
<polygon points="699.1,1084.9 702.8,1089.6 687.1,1102 683.4,1097.2" fill="#9000d8" />
<text x="543.1" y="935.1" transform="rotate(58.4 543.1 935.1)" text-anchor="end" dy="0.35em" font-size="13.7" fill="#000" fill-opacity="0.85" stroke="#000" stroke-width="0.37" stroke-linejoin="round" stroke-opacity="0.85">AT2G33170</text>
<polygon points="571.9,971.2 577.7,980.8 568.2,986.6 562.3,977.1" fill="none" stroke="#f0f0f5" stroke-width="1.1"/>
<polygon points="611.8,1032.6 617.8,1042.3 605,1050.2 599,1040.5" fill="#9aab2d" />
<text x="612" y="1047.3" transform="rotate(58.4 612 1047.3)" text-anchor="start" dy="0.35em" font-size="13.5" fill="#111"  stroke="#111" stroke-width="0.37" stroke-linejoin="round">26</text>
<text x="525.8" y="944.5" transform="rotate(65.2 525.8 944.5)" text-anchor="end" dy="0.35em" font-size="13.7" fill="#000" fill-opacity="0.85" stroke="#000" stroke-width="0.37" stroke-linejoin="round" stroke-opacity="0.85">AT1G34110</text>
<text x="526.8" y="946.7" transform="rotate(65.2 526.8 946.7)" text-anchor="start" dy="0.35em" font-size="12" fill="#111"  stroke="#111" stroke-width="0.34" stroke-linejoin="round">RGI5</text>
<polygon points="550.1,983.7 554.8,993.8 544.6,998.5 539.9,988.4" fill="none" stroke="#f0f0f5" stroke-width="1.1"/>
<polygon points="582.6,1049.3 586.3,1057.5 572.7,1063.8 568.9,1055.6" fill="#9aab2d" />
<text x="580" y="1061.7" transform="rotate(65.2 580 1061.7)" text-anchor="start" dy="0.35em" font-size="13.5" fill="#111"  stroke="#111" stroke-width="0.37" stroke-linejoin="round">24</text>
<text x="507.4" y="951.7" transform="rotate(71.9 507.4 951.7)" text-anchor="end" dy="0.35em" font-size="13.7" fill="#000" fill-opacity="0.85" stroke="#000" stroke-width="0.37" stroke-linejoin="round" stroke-opacity="0.85">AT5G48940</text>
<text x="508.2" y="954.1" transform="rotate(71.9 508.2 954.1)" text-anchor="start" dy="0.35em" font-size="12" fill="#111"  stroke="#111" stroke-width="0.34" stroke-linejoin="round">RGFR2</text>
<polygon points="527.1,993.2 530.7,1004.2 519.7,1007.8 516.1,996.8" fill="#0909ee" />
<text x="526" y="1008.5" transform="rotate(71.9 526 1008.5)" text-anchor="start" dy="0.35em" font-size="12.5" fill="#111"  stroke="#111" stroke-width="0.35" stroke-linejoin="round">RGF</text>
<polygon points="551.6,1062.4 554.3,1071 540.1,1075.7 537.3,1067.1" fill="#9aab2d" />
<text x="547.6" y="1074.5" transform="rotate(71.9 547.6 1074.5)" text-anchor="start" dy="0.35em" font-size="13.5" fill="#111"  stroke="#111" stroke-width="0.37" stroke-linejoin="round">24</text>
<text x="488.4" y="956.7" transform="rotate(78.6 488.4 956.7)" text-anchor="end" dy="0.35em" font-size="13.7" fill="#000" fill-opacity="0.85" stroke="#000" stroke-width="0.37" stroke-linejoin="round" stroke-opacity="0.85">AT3G24240</text>
<text x="488.9" y="959.1" transform="rotate(78.6 488.9 959.1)" text-anchor="start" dy="0.35em" font-size="12" fill="#111"  stroke="#111" stroke-width="0.34" stroke-linejoin="round">RGFR1</text>
<polygon points="503.1,1000.2 505.4,1011.6 494,1013.9 491.7,1002.5" fill="#0909ee" />
<text x="500.2" y="1015.3" transform="rotate(78.6 500.2 1015.3)" text-anchor="start" dy="0.35em" font-size="12.5" fill="#111"  stroke="#111" stroke-width="0.35" stroke-linejoin="round">RGF</text>
<polygon points="519.2,1071.9 521,1080.7 506.3,1083.7 504.5,1074.8" fill="#9aab2d" />
<text x="513.9" y="1083.3" transform="rotate(78.6 513.9 1083.3)" text-anchor="start" dy="0.35em" font-size="13.5" fill="#111"  stroke="#111" stroke-width="0.37" stroke-linejoin="round">24</text>
<text x="468.9" y="959.4" transform="rotate(85.3 468.9 959.4)" text-anchor="end" dy="0.35em" font-size="13.7" fill="#000" fill-opacity="0.85" stroke="#000" stroke-width="0.37" stroke-linejoin="round" stroke-opacity="0.85">AT5G56040</text>
<text x="469.1" y="961.9" transform="rotate(85.3 469.1 961.9)" text-anchor="start" dy="0.35em" font-size="12" fill="#111"  stroke="#111" stroke-width="0.34" stroke-linejoin="round">RGFR4</text>
<polygon points="478.3,1004.4 479.3,1016 467.7,1016.9 466.8,1005.4" fill="#0909ee" />
<text x="473.7" y="1019" transform="rotate(85.3 473.7 1019)" text-anchor="start" dy="0.35em" font-size="12.5" fill="#111"  stroke="#111" stroke-width="0.35" stroke-linejoin="round">RGF</text>
<polygon points="486,1077.4 486.4,1082.8 471.5,1084 471.1,1078.7" fill="#9aab2d" />
<text x="479.1" y="1084.6" transform="rotate(85.3 479.1 1084.6)" text-anchor="start" dy="0.35em" font-size="13.5" fill="#111"  stroke="#111" stroke-width="0.37" stroke-linejoin="round">21</text>
<polygon points="491.7,1123.1 492,1126.1 473,1127.7 472.8,1124.7" fill="#f50a0a" />
<polygon points="496.1,1170.9 496.5,1174.9 476.5,1176.5 476.2,1172.6" fill="#9000d8" />
<text x="449.2" y="959.9" transform="rotate(-87.9 449.2 959.9)" text-anchor="start" dy="0.35em" font-size="13.7" fill="#000" fill-opacity="0.85" stroke="#000" stroke-width="0.37" stroke-linejoin="round" stroke-opacity="0.85">AT4G26540</text>
<text x="449.1" y="962.4" transform="rotate(-87.9 449.1 962.4)" text-anchor="end" dy="0.35em" font-size="12" fill="#111"  stroke="#111" stroke-width="0.34" stroke-linejoin="round">RGFR3</text>
<polygon points="453.3,1005.7 452.9,1017.3 441.3,1016.8 441.7,1005.3" fill="#0909ee" />
<text x="447" y="1019.7" transform="rotate(-87.9 447 1019.7)" text-anchor="end" dy="0.35em" font-size="12.5" fill="#111"  stroke="#111" stroke-width="0.35" stroke-linejoin="round">RGF</text>
<polygon points="452.4,1079.1 452.2,1083.3 437.2,1082.7 437.4,1078.5" fill="#9aab2d" />
<text x="444.7" y="1084.2" transform="rotate(-87.9 444.7 1084.2)" text-anchor="end" dy="0.35em" font-size="13.5" fill="#111"  stroke="#111" stroke-width="0.37" stroke-linejoin="round">20</text>
<text x="429.5" y="958" transform="rotate(-81.2 429.5 958)" text-anchor="start" dy="0.35em" font-size="13.7" fill="#000" fill-opacity="0.85" stroke="#000" stroke-width="0.37" stroke-linejoin="round" stroke-opacity="0.85">AT5G61480</text>
<text x="429.2" y="960.5" transform="rotate(-81.2 429.2 960.5)" text-anchor="end" dy="0.35em" font-size="12" fill="#111"  stroke="#111" stroke-width="0.34" stroke-linejoin="round">PXY</text>
<polygon points="428.3,1004 426.5,1015.4 415.1,1013.7 416.8,1002.2" fill="#0909ee" />
<text x="420.4" y="1017.1" transform="rotate(-81.2 420.4 1017.1)" text-anchor="end" dy="0.35em" font-size="12.5" fill="#111"  stroke="#111" stroke-width="0.35" stroke-linejoin="round">TDIF</text>
<polygon points="418.8,1076.8 417.9,1082.1 403.1,1079.8 403.9,1074.5" fill="#9aab2d" />
<text x="410.3" y="1082.2" transform="rotate(-81.2 410.3 1082.2)" text-anchor="end" dy="0.35em" font-size="13.5" fill="#111"  stroke="#111" stroke-width="0.37" stroke-linejoin="round">21</text>
<polygon points="413.7,1122.5 413.3,1125.5 394.5,1122.6 394.9,1119.6" fill="#f50a0a" />
<polygon points="406.9,1170.1 406.3,1174 386.5,1171 387.1,1167" fill="#9000d8" />
<text x="410.3" y="953.9" transform="rotate(-74.5 410.3 953.9)" text-anchor="start" dy="0.35em" font-size="13.7" fill="#000" fill-opacity="0.85" stroke="#000" stroke-width="0.37" stroke-linejoin="round" stroke-opacity="0.85">AT4G28650</text>
<text x="409.6" y="956.3" transform="rotate(-74.5 409.6 956.3)" text-anchor="end" dy="0.35em" font-size="12" fill="#111"  stroke="#111" stroke-width="0.34" stroke-linejoin="round">PXL2</text>
<polygon points="403.7,999.4 400.6,1010.5 389.4,1007.4 392.5,996.3" fill="#0909ee" />
<text x="394.3" y="1011.5" transform="rotate(-74.5 394.3 1011.5)" text-anchor="end" dy="0.35em" font-size="12.5" fill="#111"  stroke="#111" stroke-width="0.35" stroke-linejoin="round">TDIF</text>
<polygon points="385.7,1070.6 383.9,1076.9 369.5,1072.9 371.2,1066.5" fill="#9aab2d" />
<text x="376.4" y="1076.1" transform="rotate(-74.5 376.4 1076.1)" text-anchor="end" dy="0.35em" font-size="13.5" fill="#111"  stroke="#111" stroke-width="0.37" stroke-linejoin="round">22</text>
<text x="391.6" y="947.5" transform="rotate(-67.8 391.6 947.5)" text-anchor="start" dy="0.35em" font-size="13.7" fill="#000" fill-opacity="0.85" stroke="#000" stroke-width="0.37" stroke-linejoin="round" stroke-opacity="0.85">AT1G08590</text>
<text x="390.7" y="949.8" transform="rotate(-67.8 390.7 949.8)" text-anchor="end" dy="0.35em" font-size="12" fill="#111"  stroke="#111" stroke-width="0.34" stroke-linejoin="round">PXL1</text>
<polygon points="379.7,991.9 375.3,1002.6 364.6,998.3 369,987.5" fill="#0909ee" />
<text x="369" y="1002.9" transform="rotate(-67.8 369 1002.9)" text-anchor="end" dy="0.35em" font-size="12.5" fill="#111"  stroke="#111" stroke-width="0.35" stroke-linejoin="round">TDIF</text>
<polygon points="353.5,1060.5 351.5,1065.5 337.6,1059.8 339.6,1054.8" fill="#9aab2d" />
<text x="344.1" y="1063.8" transform="rotate(-67.8 344.1 1063.8)" text-anchor="end" dy="0.35em" font-size="13.5" fill="#111"  stroke="#111" stroke-width="0.37" stroke-linejoin="round">21</text>
<polygon points="338,1103.8 336.1,1108.5 318.5,1101.3 320.4,1096.6" fill="#f50a0a" />
<polygon points="320.3,1148.4 318,1154 299.5,1146.4 301.8,1140.9" fill="#9000d8" />
<text x="373.8" y="939" transform="rotate(-61 373.8 939)" text-anchor="start" dy="0.35em" font-size="13.7" fill="#000" fill-opacity="0.85" stroke="#000" stroke-width="0.37" stroke-linejoin="round" stroke-opacity="0.85">AT1G75820</text>
<text x="372.6" y="941.2" transform="rotate(-61 372.6 941.2)" text-anchor="end" dy="0.35em" font-size="12" fill="#111"  stroke="#111" stroke-width="0.34" stroke-linejoin="round">CLV1</text>
<polygon points="356.8,981.7 351.2,991.8 341.1,986.2 346.7,976.1" fill="#0909ee" />
<text x="344.9" y="991.3" transform="rotate(-61 344.9 991.3)" text-anchor="end" dy="0.35em" font-size="12.5" fill="#111"  stroke="#111" stroke-width="0.35" stroke-linejoin="round">CLV3/CLE</text>
<polygon points="322.8,1046.7 320.2,1051.5 307,1044.2 309.7,1039.5" fill="#9aab2d" />
<text x="313" y="1048.9" transform="rotate(-61 313 1048.9)" text-anchor="end" dy="0.35em" font-size="13.5" fill="#111"  stroke="#111" stroke-width="0.37" stroke-linejoin="round">21</text>
<polygon points="302.3,1088 299.8,1092.3 283.2,1083.1 285.6,1078.8" fill="#f50a0a" />
<polygon points="279.5,1130.2 276.5,1135.4 259.1,1125.8 262,1120.5" fill="#9000d8" />
<text x="357.2" y="928.5" transform="rotate(-54.3 357.2 928.5)" text-anchor="start" dy="0.35em" font-size="13.7" fill="#000" fill-opacity="0.85" stroke="#000" stroke-width="0.37" stroke-linejoin="round" stroke-opacity="0.85">AT4G20270</text>
<text x="355.7" y="930.5" transform="rotate(-54.3 355.7 930.5)" text-anchor="end" dy="0.35em" font-size="12" fill="#111"  stroke="#111" stroke-width="0.34" stroke-linejoin="round">BAM3</text>
<polygon points="335.3,968.9 328.5,978.3 319.1,971.5 325.9,962.1" fill="#0909ee" />
<text x="322.3" y="977" transform="rotate(-54.3 322.3 977)" text-anchor="end" dy="0.35em" font-size="12.5" fill="#111"  stroke="#111" stroke-width="0.35" stroke-linejoin="round">CLE</text>
<polygon points="293.9,1029.5 290,1034.8 277.8,1026.1 281.7,1020.7" fill="#9aab2d" />
<text x="283.2" y="1031.4" transform="rotate(-54.3 283.2 1031.4)" text-anchor="end" dy="0.35em" font-size="13.5" fill="#111"  stroke="#111" stroke-width="0.37" stroke-linejoin="round">22</text>
<polygon points="268.7,1068 265.7,1072.1 250.3,1061 253.2,1056.9" fill="#f50a0a" />
<polygon points="241.1,1107.3 237.6,1112.2 221.3,1100.5 224.8,1095.6" fill="#9000d8" />
<text x="341.9" y="916" transform="rotate(-47.6 341.9 916)" text-anchor="start" dy="0.35em" font-size="13.7" fill="#000" fill-opacity="0.85" stroke="#000" stroke-width="0.37" stroke-linejoin="round" stroke-opacity="0.85">AT3G49670</text>
<text x="340.2" y="917.9" transform="rotate(-47.6 340.2 917.9)" text-anchor="end" dy="0.35em" font-size="12" fill="#111"  stroke="#111" stroke-width="0.34" stroke-linejoin="round">BAM2</text>
<polygon points="315.4,953.6 307.6,962.2 299,954.4 306.9,945.8" fill="#0909ee" />
<text x="301.6" y="960.2" transform="rotate(-47.6 301.6 960.2)" text-anchor="end" dy="0.35em" font-size="12.5" fill="#111"  stroke="#111" stroke-width="0.35" stroke-linejoin="round">CIE</text>
<polygon points="267.2,1009 262.7,1013.8 251.6,1003.7 256.1,998.8" fill="#9aab2d" />
<text x="256.4" y="1009.7" transform="rotate(-47.6 256.4 1009.7)" text-anchor="end" dy="0.35em" font-size="13.5" fill="#111"  stroke="#111" stroke-width="0.37" stroke-linejoin="round">22</text>
<polygon points="237.6,1044.3 234.2,1048 220.2,1035.1 223.6,1031.4" fill="#f50a0a" />
<polygon points="205.6,1080 201.6,1084.5 186.8,1071 190.8,1066.6" fill="#9000d8" />
<text x="328.1" y="901.9" transform="rotate(-40.9 328.1 901.9)" text-anchor="start" dy="0.35em" font-size="13.7" fill="#000" fill-opacity="0.85" stroke="#000" stroke-width="0.37" stroke-linejoin="round" stroke-opacity="0.85">AT5G65700</text>
<text x="326.3" y="903.5" transform="rotate(-40.9 326.3 903.5)" text-anchor="end" dy="0.35em" font-size="12" fill="#111"  stroke="#111" stroke-width="0.34" stroke-linejoin="round">BAM1</text>
<polygon points="297.5,936.1 288.7,943.7 281.1,934.9 289.9,927.4" fill="#0909ee" />
<text x="282.9" y="941" transform="rotate(-40.9 282.9 941)" text-anchor="end" dy="0.35em" font-size="12.5" fill="#111"  stroke="#111" stroke-width="0.35" stroke-linejoin="round">CLE</text>
<polygon points="243.1,985.4 238.1,989.8 228.2,978.4 233.2,974.1" fill="#9aab2d" />
<text x="232.2" y="984.9" transform="rotate(-40.9 232.2 984.9)" text-anchor="end" dy="0.35em" font-size="13.5" fill="#111"  stroke="#111" stroke-width="0.37" stroke-linejoin="round">22</text>
<polygon points="209.6,1017 205.8,1020.3 193.4,1006 197.1,1002.7" fill="#f50a0a" />
<polygon points="173.6,1048.8 169.1,1052.8 156,1037.6 160.5,1033.7" fill="#9000d8" />
<text x="316.1" y="886.3" transform="rotate(-34.1 316.1 886.3)" text-anchor="start" dy="0.35em" font-size="13.7" fill="#b3261e" fill-opacity="0.85" stroke="#b3261e" stroke-width="0.37" stroke-linejoin="round" stroke-opacity="0.85">AT5G25930</text>
<text x="314.1" y="887.7" transform="rotate(-34.1 314.1 887.7)" text-anchor="end" dy="0.35em" font-size="12" fill="#e3141b"  stroke="#e3141b" stroke-width="0.34" stroke-linejoin="round">NUT</text>
<polygon points="281.7,916.7 272.1,923.2 265.5,913.6 275.1,907.1" fill="#0909ee" />
<text x="266.7" y="919.8" transform="rotate(-34.1 266.7 919.8)" text-anchor="end" dy="0.35em" font-size="12.5" fill="#e3141b"  stroke="#e3141b" stroke-width="0.35" stroke-linejoin="round">SCREWs</text>
<polygon points="221.9,959.3 216.4,963 208,950.6 213.4,946.9" fill="#9aab2d" />
<text x="211.2" y="957.4" transform="rotate(-34.1 211.2 957.4)" text-anchor="end" dy="0.35em" font-size="13.5" fill="#111"  stroke="#111" stroke-width="0.37" stroke-linejoin="round">22</text>
<polygon points="184.9,986.7 147.7,1012 137,996.3 174.2,971" fill="#f50a0a" />
<polygon points="145.5,1014.1 120.6,1030.9 109.4,1014.4 134.2,997.5" fill="#9000d8" />
<text x="306.1" y="869.3" transform="rotate(-27.4 306.1 869.3)" text-anchor="start" dy="0.35em" font-size="13.7" fill="#000" fill-opacity="0.85" stroke="#000" stroke-width="0.37" stroke-linejoin="round" stroke-opacity="0.85">AT5G65710</text>
<text x="303.8" y="870.5" transform="rotate(-27.4 303.8 870.5)" text-anchor="end" dy="0.35em" font-size="12" fill="#111"  stroke="#111" stroke-width="0.34" stroke-linejoin="round">HSL2</text>
<polygon points="268.3,895.5 258,900.8 252.6,890.5 262.9,885.2" fill="#0909ee" />
<text x="253" y="896.9" transform="rotate(-27.4 253 896.9)" text-anchor="end" dy="0.35em" font-size="12.5" fill="#111"  stroke="#111" stroke-width="0.35" stroke-linejoin="round">IDA/IDL</text>
<polygon points="203.9,930.8 200.2,932.7 193.2,919.4 197,917.5" fill="#9aab2d" />
<text x="195.6" y="926.6" transform="rotate(-27.4 195.6 926.6)" text-anchor="end" dy="0.35em" font-size="13.5" fill="#111"  stroke="#111" stroke-width="0.37" stroke-linejoin="round">20</text>
<polygon points="164,953.7 159.5,956 150.8,939.2 155.2,936.9" fill="#f50a0a" />
<polygon points="121.6,976.3 115.4,979.5 106.2,961.8 112.4,958.5" fill="#9000d8" />
<text x="298" y="851.3" transform="rotate(-20.7 298 851.3)" text-anchor="start" dy="0.35em" font-size="13.7" fill="#000" fill-opacity="0.85" stroke="#000" stroke-width="0.37" stroke-linejoin="round" stroke-opacity="0.85">AT1G28440</text>
<text x="295.7" y="852.2" transform="rotate(-20.7 295.7 852.2)" text-anchor="end" dy="0.35em" font-size="12" fill="#111"  stroke="#111" stroke-width="0.34" stroke-linejoin="round">HSL1</text>
<polygon points="257.4,872.9 246.6,877 242.5,866.1 253.3,862" fill="#0909ee" />
<text x="242.1" y="872.5" transform="rotate(-20.7 242.1 872.5)" text-anchor="end" dy="0.35em" font-size="12.5" fill="#111"  stroke="#111" stroke-width="0.35" stroke-linejoin="round">CLE9/10</text>
<polygon points="189.4,900.4 183.2,902.7 177.9,888.7 184.1,886.4" fill="#9aab2d" />
<text x="179.4" y="896.1" transform="rotate(-20.7 179.4 896.1)" text-anchor="end" dy="0.35em" font-size="13.5" fill="#111"  stroke="#111" stroke-width="0.37" stroke-linejoin="round">22</text>
<polygon points="147,918.5 142.3,920.3 135.6,902.5 140.3,900.8" fill="#f50a0a" />
<polygon points="102.3,936 95.8,938.4 88.7,919.7 95.2,917.2" fill="#9000d8" />
<text x="292.2" y="832.5" transform="rotate(-14 292.2 832.5)" text-anchor="start" dy="0.35em" font-size="13.7" fill="#000" fill-opacity="0.85" stroke="#000" stroke-width="0.37" stroke-linejoin="round" stroke-opacity="0.85">AT4G28490</text>
<text x="289.7" y="833.1" transform="rotate(-14 289.7 833.1)" text-anchor="end" dy="0.35em" font-size="12" fill="#111"  stroke="#111" stroke-width="0.34" stroke-linejoin="round">HAE</text>
<polygon points="249.3,849.2 238.1,852 235.3,840.7 246.5,837.9" fill="#0909ee" />
<text x="234.1" y="847" transform="rotate(-14 234.1 847)" text-anchor="end" dy="0.35em" font-size="12.5" fill="#111"  stroke="#111" stroke-width="0.35" stroke-linejoin="round">IDA/IDL</text>
<polygon points="178.5,868.5 173.2,869.8 169.6,855.3 174.9,854" fill="#9aab2d" />
<text x="170.3" y="862.8" transform="rotate(-14 170.3 862.8)" text-anchor="end" dy="0.35em" font-size="13.5" fill="#111"  stroke="#111" stroke-width="0.37" stroke-linejoin="round">21</text>
<polygon points="134.3,881.6 128.5,883 123.9,864.6 129.7,863.1" fill="#f50a0a" />
<polygon points="87.9,893.6 78.2,896 73.3,876.6 83,874.2" fill="#9000d8" />
<text x="288.5" y="813.2" transform="rotate(-7.2 288.5 813.2)" text-anchor="start" dy="0.35em" font-size="13.7" fill="#000" fill-opacity="0.85" stroke="#000" stroke-width="0.37" stroke-linejoin="round" stroke-opacity="0.85">AT3G19700</text>
<text x="286.1" y="813.5" transform="rotate(-7.2 286.1 813.5)" text-anchor="end" dy="0.35em" font-size="12" fill="#111"  stroke="#111" stroke-width="0.34" stroke-linejoin="round">IKU2</text>
<polygon points="243.8,824.5 232.7,825.9 231.3,814.8 242.4,813.4" fill="none" stroke="#f0f0f5" stroke-width="1.1"/>
<polygon points="171.4,835.6 167.3,836.1 165.4,821.2 169.5,820.7" fill="#9aab2d" />
<text x="165.1" y="828.8" transform="rotate(-7.2 165.1 828.8)" text-anchor="end" dy="0.35em" font-size="13.5" fill="#111"  stroke="#111" stroke-width="0.37" stroke-linejoin="round">20</text>
<text x="287.2" y="793.5" transform="rotate(-0.5 287.2 793.5)" text-anchor="start" dy="0.35em" font-size="13.7" fill="#000" fill-opacity="0.85" stroke="#000" stroke-width="0.37" stroke-linejoin="round" stroke-opacity="0.85">AT1G09970</text>
<text x="284.7" y="793.5" transform="rotate(-0.5 284.7 793.5)" text-anchor="end" dy="0.35em" font-size="12" fill="#111"  stroke="#111" stroke-width="0.34" stroke-linejoin="round">RLK7</text>
<polygon points="241.7,799.7 230.1,799.8 230,788.2 241.6,788.1" fill="#0909ee" />
<text x="227.4" y="794" transform="rotate(-0.5 227.4 794)" text-anchor="end" dy="0.35em" font-size="12.5" fill="#111"  stroke="#111" stroke-width="0.35" stroke-linejoin="round">PIPs</text>
<polygon points="168.3,802.1 165.3,802.1 165.1,787.1 168.1,787.1" fill="#9aab2d" />
<text x="164" y="794.6" transform="rotate(-0.5 164 794.6)" text-anchor="end" dy="0.35em" font-size="13.5" fill="#111"  stroke="#111" stroke-width="0.37" stroke-linejoin="round">19</text>
<polygon points="122.3,804.5 113.3,804.6 113.1,785.6 122.1,785.5" fill="#f50a0a" />
<polygon points="74.3,805.4 64.3,805.5 64.1,785.5 74.1,785.4" fill="#9000d8" />
<text x="288.2" y="773.8" transform="rotate(6.2 288.2 773.8)" text-anchor="start" dy="0.35em" font-size="13.7" fill="#000" fill-opacity="0.85" stroke="#000" stroke-width="0.37" stroke-linejoin="round" stroke-opacity="0.85">AT1G72180</text>
<text x="285.7" y="773.5" transform="rotate(6.2 285.7 773.5)" text-anchor="end" dy="0.35em" font-size="12" fill="#111"  stroke="#111" stroke-width="0.34" stroke-linejoin="round">CEPR2</text>
<polygon points="242.2,774.7 230.7,773.4 232,761.9 243.5,763.1" fill="#0909ee" />
<text x="228.7" y="767.3" transform="rotate(6.2 228.7 767.3)" text-anchor="end" dy="0.35em" font-size="12.5" fill="#111"  stroke="#111" stroke-width="0.35" stroke-linejoin="round">CEP</text>
<polygon points="169.1,768.4 164.9,767.9 166.5,753 170.7,753.5" fill="#9aab2d" />
<text x="164.5" y="760.4" transform="rotate(6.2 164.5 760.4)" text-anchor="end" dy="0.35em" font-size="13.5" fill="#111"  stroke="#111" stroke-width="0.37" stroke-linejoin="round">20</text>
<polygon points="123.1,765.4 118.2,764.9 120.2,746 125.2,746.5" fill="#f50a0a" />
<polygon points="75.4,760.7 68.4,760 70.6,740.1 77.5,740.8" fill="#9000d8" />
<text x="291.5" y="754.4" transform="rotate(12.9 291.5 754.4)" text-anchor="start" dy="0.35em" font-size="13.7" fill="#000" fill-opacity="0.85" stroke="#000" stroke-width="0.37" stroke-linejoin="round" stroke-opacity="0.85">AT5G49660</text>
<text x="289" y="753.8" transform="rotate(12.9 289 753.8)" text-anchor="end" dy="0.35em" font-size="12" fill="#111"  stroke="#111" stroke-width="0.34" stroke-linejoin="round">CEPR1</text>
<polygon points="245.7,749.8 234.4,747.2 237,735.9 248.3,738.5" fill="#0909ee" />
<text x="233.2" y="741" transform="rotate(12.9 233.2 741)" text-anchor="end" dy="0.35em" font-size="12.5" fill="#111"  stroke="#111" stroke-width="0.35" stroke-linejoin="round">CEP</text>
<polygon points="173.8,735.1 169.7,734.1 173.1,719.5 177.2,720.4" fill="#9aab2d" />
<text x="170.2" y="726.5" transform="rotate(12.9 170.2 726.5)" text-anchor="end" dy="0.35em" font-size="13.5" fill="#111"  stroke="#111" stroke-width="0.37" stroke-linejoin="round">20</text>
<polygon points="128.5,726.7 123.7,725.6 127.9,707.1 132.8,708.2" fill="#f50a0a" />
<polygon points="81.6,716.4 74.8,714.9 79.3,695.4 86.1,697" fill="#9000d8" />
<g transform="translate(455.2,792.0) rotate(24.4)">
<rect x="-431.4" y="2" width="49.6" height="17.2" fill="#9c24b0"/>
<text x="-406.6" y="10.6" dy="0.35em" text-anchor="middle" font-size="19" fill="#000" fill-opacity="0.85" stroke="#000" stroke-width="0.45" stroke-linejoin="round" stroke-opacity="0.85">elf18</text>
<rect x="-381.8" y="2" width="50.8" height="17.2" fill="#f21414"/>
<text x="-356.4" y="10.6" dy="0.35em" text-anchor="middle" font-size="19" fill="#000" fill-opacity="0.85" stroke="#000" stroke-width="0.45" stroke-linejoin="round" stroke-opacity="0.85">flg22</text>
<rect x="-331" y="2" width="53.3" height="17.2" fill="#7c9655"/>
<text x="-304.4" y="10.6" dy="0.35em" text-anchor="middle" font-size="19" fill="#000" fill-opacity="0.85" stroke="#000" stroke-width="0.45" stroke-linejoin="round" stroke-opacity="0.85">LRR</text>
<rect x="-277.7" y="2" width="72.9" height="17.2" fill="#0c0cf0"/>
<text x="-241.2" y="10.6" dy="0.35em" text-anchor="middle" font-size="19" fill="#000" fill-opacity="0.85" stroke="#000" stroke-width="0.45" stroke-linejoin="round" stroke-opacity="0.85">ligand</text>
<text transform="translate(-417.4,-10) rotate(-90)" dy="0.35em" text-anchor="middle" font-size="16" stroke="#000" stroke-width="0.41" stroke-linejoin="round">5</text>
<text transform="translate(-387.9,-10) rotate(-90)" dy="0.35em" text-anchor="middle" font-size="16" stroke="#000" stroke-width="0.41" stroke-linejoin="round">0</text>
<text transform="translate(-358.9,-10) rotate(-90)" dy="0.35em" text-anchor="middle" font-size="16" stroke="#000" stroke-width="0.41" stroke-linejoin="round">5</text>
<text transform="translate(-339.7,-10) rotate(-90)" dy="0.35em" text-anchor="middle" font-size="16" stroke="#000" stroke-width="0.41" stroke-linejoin="round">0</text>
</g>
<text x="220.4" y="380.3" transform="rotate(-29.7 220.4 380.3)" text-anchor="middle" dy="0.35em" font-size="31" fill="#e000e6" stroke="none">LRR-RK X</text>
<text x="683.3" y="375.4" transform="rotate(28.7 683.3 375.4)" text-anchor="middle" dy="0.35em" font-size="31" fill="#eb7818" stroke="none">LRR-RK VII</text>
<text x="913.1" y="656.4" transform="rotate(73.5 913.1 656.4)" text-anchor="middle" dy="0.35em" font-size="30.2" fill="#8c8c8c" stroke="none">LRR-RK XII</text>
<text x="194.3" y="1187.7" transform="rotate(33.4 194.3 1187.7)" text-anchor="middle" dy="0.35em" font-size="30.6" fill="#12e612" stroke="none">LRR-RK XI</text>
<text x="797.8" y="323.1" font-size="29.7" stroke="#000" stroke-width="0.63" stroke-linejoin="round">Dataset legend</text>
<line x1="793.4" y1="336" x2="1055.6" y2="336" stroke="#000" stroke-width="1.8"/>
<line x1="795" y1="341.4" x2="823" y2="341.4" stroke="#aaa" stroke-width="1"/>
<rect x="796.3" y="347.9" width="19.7" height="19.5" fill="#78b444"/>
<text x="818.9" y="366.5" font-size="30" stroke="#000" stroke-width="0.63" stroke-linejoin="round">LRR number</text>
<rect x="796.3" y="376.6" width="19.7" height="19.5" fill="#f20d0d"/>
<text x="818.9" y="395.2" font-size="30" stroke="#000" stroke-width="0.63" stroke-linejoin="round">flg22 induction fold</text>
<rect x="796.3" y="405.4" width="19.7" height="19.5" fill="#8e0ad8"/>
<text x="818.9" y="424" font-size="30" stroke="#000" stroke-width="0.63" stroke-linejoin="round">elf18 induction fold</text>
<rect x="796.3" y="434.1" width="19.7" height="19.5" fill="#0b0bf0"/>
<text x="818.9" y="452.8" font-size="30" stroke="#000" stroke-width="0.63" stroke-linejoin="round">Ligand</text>
<text x="1147" y="344.5" font-size="35" font-weight="bold">c</text>
<g transform="translate(1556.2,802.4) scale(1.0196,1)">
<path d="M-50.4,-239.8 A245,245 0 0 1 201.2,-139.8 L59.1,-41.1 A72,72 0 0 0 -14.8,-70.5 Z" fill="#cbda8e" />
<path d="M243.2,-53.7 A249,249 0 0 1 226,104.5 L76.2,35.3 A84,84 0 0 0 82,-18.1 Z" fill="#e9c6a4" />
<path d="M114.7,216.5 A245,245 0 0 1 -8.1,244.9 L-2.9,87 A87,87 0 0 0 40.7,76.9 Z" fill="#a8a8a8" />
<path d="M-195.1,141.4 A241,241 0 0 1 -231.4,-67.4 L-67.2,-19.6 A70,70 0 0 0 -56.7,41.1 Z" fill="#f5a28c" />
<path d="M-409.6,-199.3 A455.5,455.5 0 0 1 -150.8,-429.8 L-144.3,-411.4 A436,436 0 0 0 -392,-190.8 Z" fill="#9c9e00" />
<path d="M-150.8,-429.8 A455.5,455.5 0 0 1 374,-260 L358,-248.8 A436,436 0 0 0 -144.3,-411.4 Z" fill="#ff0000" />
<path d="M374,-260 A455.5,455.5 0 1 1 -437.3,-127.4 L-418.6,-121.9 A436,436 0 1 0 358,-248.8 Z" fill="#ff00ff" />
<path d="M-302.5,-121.9 A326.1,326.1 0 0 1 -108,-307.7" fill="none" stroke="#333" stroke-width="1"/>
<path d="M-108,-307.7 A326.1,326.1 0 1 1 -313.1,-91.2" fill="none" stroke="#333" stroke-width="1.2" stroke-dasharray="5 3"/>
<path d="M-327.9,-132.1 A353.5,353.5 0 0 1 -117,-333.6" fill="none" stroke="#333" stroke-width="1"/>
<path d="M-117,-333.6 A353.5,353.5 0 1 1 -339.4,-98.9" fill="none" stroke="#333" stroke-width="1.2" stroke-dasharray="5 3"/>
<path d="M-353.8,-142.6 A381.5,381.5 0 0 1 -126.3,-360" fill="none" stroke="#333" stroke-width="1"/>
<path d="M-126.3,-360 A381.5,381.5 0 1 1 -366.3,-106.7" fill="none" stroke="#333" stroke-width="1.2" stroke-dasharray="5 3"/>
<path d="M-379.4,-152.9 A409,409 0 0 1 -135.4,-385.9" fill="none" stroke="#333" stroke-width="1"/>
<path d="M-135.4,-385.9 A409,409 0 1 1 -392.7,-114.4" fill="none" stroke="#333" stroke-width="1.2" stroke-dasharray="5 3"/>
<path d="M-22.6,-12.9L-89.5,-51 M-20.7,-15.7L-82.1,-62.2 M-22.6,-12.9 A26,26 0 0 1 -20.7,-15.7 M-15.9,-10.5L-21.7,-14.3 M-18.5,-18.3L-73.4,-72.3 M-20.3,-26L-63.4,-81.2 M-20.3,-34.5L-52.3,-88.7 M-15.7,-36.8L-40.3,-94.8 M-20.3,-34.5 A40,40 0 0 1 -15.7,-36.8 M-14.9,-29.5L-18,-35.7 M-20.3,-26 A33,33 0 0 1 -14.9,-29.5 M-13.9,-22L-17.7,-27.9 M-18.5,-18.3 A26,26 0 0 1 -13.9,-22 M-11.9,-14.8L-16.3,-20.2 M-15.9,-10.5 A19,19 0 0 1 -11.9,-14.8 M-8.9,-8.1L-14.1,-12.8 M-7,-25L-27.7,-99.2 M-5.7,-39.6L-14.6,-102 M-0.5,-40L-1.3,-103 M-5.7,-39.6 A40,40 0 0 1 -0.5,-40 M-2.5,-32.9L-3.1,-39.9 M5.5,-46.7L12.1,-102.3 M11.5,-45.6L25.3,-99.9 M5.5,-46.7 A47,47 0 0 1 11.5,-45.6 M7.3,-39.3L8.5,-46.2 M17.3,-43.7L38,-95.7 M26.3,-47.2L50.1,-90 M36.3,-49L61.4,-82.7 M47.3,-48.9L71.6,-74.1 M53.2,-42.4L80.6,-64.2 M47.3,-48.9 A68,68 0 0 1 53.2,-42.4 M45.1,-41L50.3,-45.7 M36.3,-49 A61,61 0 0 1 45.1,-41 M36.2,-40L40.9,-45.2 M26.3,-47.2 A54,54 0 0 1 36.2,-40 M27.4,-38.2L31.5,-43.9 M17.3,-43.7 A47,47 0 0 1 27.4,-38.2 M19.2,-35.1L22.5,-41.2 M7.3,-39.3 A40,40 0 0 1 19.2,-35.1 M11,-31.1L13.4,-37.7 M-2.5,-32.9 A33,33 0 0 1 11,-31.1 M3.4,-25.8L4.3,-32.7 M-7,-25 A26,26 0 0 1 3.4,-25.8 M-1.3,-19L-1.8,-25.9 M22.3,-13.4L88.2,-53.2 M30.2,-13.2L94.4,-41.3 M38.4,-11.1L98.9,-28.7 M72,39.2L90.5,49.2 M66.3,48.2L83.3,60.5 M72,39.2 A82,82 0 0 1 66.3,48.2 M63.4,40L69.3,43.8 M59.5,56.4L74.8,70.8 M51.7,63.6L64.9,79.9 M59.5,56.4 A82,82 0 0 1 51.7,63.6 M51,55L55.7,60.1 M63.4,40 A75,75 0 0 1 51,55 M52.3,43.5L57.7,47.9 M35.7,57.9L54,87.7 M52.3,43.5 A68,68 0 0 1 35.7,57.9 M40,46.1L44.6,51.4 M30.7,68.4L42.2,94 M21.6,71.8L29.7,98.6 M30.7,68.4 A75,75 0 0 1 21.6,71.8 M23.8,63.7L26.2,70.3 M12.1,74L16.6,101.7 M2.4,75L3.3,102.9 M12.1,74 A75,75 0 0 1 2.4,75 M6.6,67.7L7.3,74.6 M23.8,63.7 A68,68 0 0 1 6.6,67.7 M13.7,59.4L15.3,66.3 M40,46.1 A61,61 0 0 1 13.7,59.4 M24.5,48.1L27.7,54.4 M-6.7,67.7L-10.1,102.5 M-17,73.1L-23.3,100.3 M-28.8,76.8L-36.1,96.5 M-41.8,78.6L-48.3,91 M-55.7,78.2L-59.7,83.9 M-70.1,75.5L-70.1,75.5 M-79.3,65.7L-79.3,65.7 M-70.1,75.5 A103,103 0 0 1 -79.3,65.7 M-69.8,65.9L-74.9,70.7 M-55.7,78.2 A96,96 0 0 1 -69.8,65.9 M-58.4,67.1L-63,72.4 M-41.8,78.6 A89,89 0 0 1 -58.4,67.1 M-46.5,67.6L-50.4,73.3 M-28.8,76.8 A82,82 0 0 1 -46.5,67.6 M-34.7,66.5L-37.9,72.7 M-17,73.1 A75,75 0 0 1 -34.7,66.5 M-23.6,63.8L-26,70.3 M-6.7,67.7 A68,68 0 0 1 -23.6,63.8 M-13.7,59.4L-15.3,66.3 M-57.5,36.2L-87.2,54.9 M-68.1,31.4L-93.5,43.1 M-78.3,24.4L-98.3,30.6 M-94.6,16.4L-101.5,17.6 M-95.9,4L-102.9,4.3 M-94.6,16.4 A96,96 0 0 1 -95.9,4 M-88.5,9.5L-95.5,10.2 M-95.6,-8.5L-102.6,-9.1 M-93.7,-20.8L-100.6,-22.3 M-95.6,-8.5 A96,96 0 0 1 -93.7,-20.8 M-88,-13.6L-94.9,-14.7 M-88.5,9.5 A89,89 0 0 1 -88,-13.6 M-82,-1.9L-89,-2.1 M-78.3,24.4 A82,82 0 0 1 -82,-1.9 M-74.3,10.4L-81.2,11.4 M-68.1,31.4 A75,75 0 0 1 -74.3,10.4 M-65.2,19.2L-72,21.1 M-57.5,36.2 A68,68 0 0 1 -65.2,19.2 M-55.6,25.1L-62,28 M-13.7,59.4 A61,61 0 0 1 -55.6,25.1 M-34.2,41.8L-38.7,47.2 M24.5,48.1 A54,54 0 0 1 -34.2,41.8 M-5.1,46.7L-5.8,53.7 M46.9,2.8 A47,47 0 0 1 -5.1,46.7 M25.8,30.5L30.3,35.9 M38.4,-11.1 A40,40 0 0 1 25.8,30.5 M31.6,9.5L38.3,11.6 M30.2,-13.2 A33,33 0 0 1 31.6,9.5 M26,-1.5L32.9,-2 M22.3,-13.4 A26,26 0 0 1 26,-1.5 M18.1,-5.6L24.8,-7.7 M-1.3,-19 A19,19 0 0 1 18.1,-5.6 M6.8,-9.9L10.7,-15.7 M-8.9,-8.1 A12,12 0 0 1 6.8,-9.9" fill="none" stroke="#111" stroke-width="1.2"/>
<path d="M60.3,-9.2L101.8,-15.6 M61,-1.3L103,-2.3 M60.3,-9.2 A61,61 0 0 1 61,-1.3 M53.8,-4.7L60.8,-5.3 M60.6,6.6L102.4,11.1 M66.1,16L100.1,24.3 M63.4,24.5L96.1,37.1 M66.1,16 A68,68 0 0 1 63.4,24.5 M58.2,18.2L64.9,20.3 M60.6,6.6 A61,61 0 0 1 58.2,18.2 M52.9,11L59.7,12.5 M53.8,-4.7 A54,54 0 0 1 52.9,11 M46.9,2.8L53.9,3.2" fill="none" stroke="#1515d0" stroke-width="1.6"/>
<text x="-94.3" y="-53.7" transform="rotate(29.7 -94.3 -53.7)" text-anchor="end" dy="0.35em" font-size="19.2" fill="#111" font-style="italic"  stroke="#111" stroke-width="0.46" stroke-linejoin="round">G. sulphuraria</text>
<polygon points="-222.2,-117.7 -235.5,-125.4 -227.9,-138.7 -214.5,-131.1" fill="none" stroke="#f2dde3" stroke-width="1" stroke-dasharray="2 2"/>
<circle cx="-266.7" cy="-152" r="8.5" fill="none" stroke="#e2e2f2" stroke-width="1" stroke-dasharray="2 2"/>
<text x="-86.5" y="-65.5" transform="rotate(37.1 -86.5 -65.5)" text-anchor="end" dy="0.35em" font-size="19.2" fill="#111" font-style="italic"  stroke="#111" stroke-width="0.46" stroke-linejoin="round">C. merolae</text>
<polygon points="-205,-145.5 -217.3,-154.8 -208,-167.1 -195.7,-157.8" fill="none" stroke="#f2dde3" stroke-width="1" stroke-dasharray="2 2"/>
<circle cx="-244.8" cy="-185.3" r="8.5" fill="none" stroke="#e2e2f2" stroke-width="1" stroke-dasharray="2 2"/>
<text x="-77.3" y="-76.2" transform="rotate(44.6 -77.3 -76.2)" text-anchor="end" dy="0.35em" font-size="19.2" fill="#111" font-style="italic"  stroke="#111" stroke-width="0.46" stroke-linejoin="round">C. crispus</text>
<polygon points="-184.4,-170.9 -195.4,-181.7 -184.6,-192.7 -173.6,-181.9" fill="none" stroke="#f2dde3" stroke-width="1" stroke-dasharray="2 2"/>
<circle cx="-218.7" cy="-215.5" r="8.5" fill="none" stroke="#e2e2f2" stroke-width="1" stroke-dasharray="2 2"/>
<text x="-66.7" y="-85.5" transform="rotate(52 -66.7 -85.5)" text-anchor="end" dy="0.35em" font-size="19.2" fill="#111" font-style="italic"  stroke="#111" stroke-width="0.46" stroke-linejoin="round">S. moellendorffii</text>
<polygon points="-160.7,-193.4 -170.1,-205.5 -158,-215 -148.5,-202.9" fill="none" stroke="#f2dde3" stroke-width="1" stroke-dasharray="2 2"/>
<polygon points="-179.4,-229.9 -173.6,-226.5 -168.1,-230.3 -169.5,-223.8 -164.3,-219.7 -170.9,-219 -173.2,-212.7 -175.8,-218.8 -182.5,-219 -177.5,-223.5" fill="#8aa52a" />
<circle cx="-188.9" cy="-242" r="9.3" fill="#0404e0"/>
<polygon points="-208.5,-250.9 -224.5,-271.4 -208.7,-283.7 -192.7,-263.2" fill="#12d2f4" />
<polygon points="-243.2,-294.2 -259.2,-314.7 -242.2,-327.9 -226.2,-307.4" fill="#fc850c" />
<text x="-55.1" y="-93.5" transform="rotate(59.5 -55.1 -93.5)" text-anchor="end" dy="0.35em" font-size="19.2" fill="#111" font-style="italic"  stroke="#111" stroke-width="0.46" stroke-linejoin="round">P. patens</text>
<polygon points="-134.2,-212.6 -142,-225.9 -128.8,-233.7 -121,-220.4" fill="none" stroke="#f2dde3" stroke-width="1" stroke-dasharray="2 2"/>
<polygon points="-148.1,-251.2 -142.8,-247.1 -136.8,-250.1 -139.1,-243.9 -134.4,-239.1 -141,-239.3 -144.1,-233.4 -146,-239.8 -152.5,-240.9 -147,-244.6" fill="#8aa52a" />
<circle cx="-155.9" cy="-264.5" r="9.3" fill="#0404e0"/>
<polygon points="-174.2,-275.9 -187.4,-298.3 -170.2,-308.4 -157,-286" fill="#12d2f4" />
<polygon points="-203,-323.2 -216.2,-345.6 -197.6,-356.5 -184.4,-334.1" fill="#fc850c" />
<text x="-42.5" y="-99.8" transform="rotate(66.9 -42.5 -99.8)" text-anchor="end" dy="0.35em" font-size="19.2" fill="#111" font-style="italic"  stroke="#111" stroke-width="0.46" stroke-linejoin="round">M. polymorpha</text>
<polygon points="-105.5,-228.2 -111.5,-242.4 -97.4,-248.4 -91.3,-234.2" fill="none" stroke="#f2dde3" stroke-width="1" stroke-dasharray="2 2"/>
<polygon points="-114.2,-268.3 -109.5,-263.6 -103.2,-265.8 -106.3,-259.8 -102.2,-254.5 -108.8,-255.6 -112.6,-250.1 -113.6,-256.7 -120,-258.6 -114.1,-261.6" fill="#8aa52a" />
<circle cx="-120.2" cy="-282.5" r="9.3" fill="#0404e0"/>
<polygon points="-136.9,-296.1 -147.1,-320.1 -128.7,-327.9 -118.5,-304" fill="#12d2f4" />
<polygon points="-159.3,-346.8 -169.5,-370.7 -149.7,-379.2 -139.5,-355.2" fill="#fc850c" />
<text x="-29.2" y="-104.5" transform="rotate(74.4 -29.2 -104.5)" text-anchor="end" dy="0.35em" font-size="19.2" fill="#111" font-style="italic"  stroke="#111" stroke-width="0.46" stroke-linejoin="round">M. acuminata</text>
<polygon points="-75,-240 -79.2,-254.8 -64.3,-258.9 -60.2,-244.1" fill="none" stroke="#f2dde3" stroke-width="1" stroke-dasharray="2 2"/>
<polygon points="-78.4,-280.8 -74.4,-275.5 -67.9,-276.9 -71.7,-271.4 -68.3,-265.6 -74.7,-267.6 -79.2,-262.6 -79.4,-269.3 -85.5,-272 -79.2,-274.2" fill="#8aa52a" />
<circle cx="-82.6" cy="-295.7" r="9.3" fill="#0404e0"/>
<polygon points="-97.4,-311.4 -104.4,-336.4 -85.1,-341.8 -78.1,-316.8" fill="#12d2f4" />
<polygon points="-113,-364.5 -120,-389.6 -99.3,-395.4 -92.3,-370.3" fill="#fc850c" />
<text x="-15.4" y="-107.4" transform="rotate(81.8 -15.4 -107.4)" text-anchor="end" dy="0.35em" font-size="19.2" fill="#111" font-style="italic"  stroke="#111" stroke-width="0.46" stroke-linejoin="round">S. italica</text>
<polygon points="-43.3,-247.7 -45.4,-262.9 -30.2,-265.1 -28,-249.9" fill="#e60a0a" />
<polygon points="-41.4,-288.7 -38,-282.9 -31.4,-283.4 -35.9,-278.4 -33.3,-272.3 -39.4,-275 -44.5,-270.7 -43.8,-277.3 -49.5,-280.8 -42.9,-282.2" fill="#8aa52a" />
<circle cx="-43.5" cy="-303.9" r="9.3" fill="#0404e0"/>
<polygon points="-56.1,-321.4 -59.8,-347.1 -40,-350 -36.3,-324.2" fill="#12d2f4" />
<polygon points="-64.7,-376.1 -68.4,-401.9 -47.1,-404.9 -43.5,-379.2" fill="#fc850c" />
<text x="-1.3" y="-108.5" transform="rotate(89.3 -1.3 -108.5)" text-anchor="end" dy="0.35em" font-size="19.2" fill="#111" font-style="italic"  stroke="#111" stroke-width="0.46" stroke-linejoin="round">P. hallii</text>
<polygon points="-10.8,-251.2 -11,-266.6 4.4,-266.8 4.6,-251.4" fill="#e60a0a" />
<polygon points="-3.6,-291.6 -1,-285.4 5.6,-285.1 0.6,-280.7 2.3,-274.3 -3.4,-277.8 -9,-274.1 -7.4,-280.6 -12.6,-284.8 -6,-285.3" fill="#8aa52a" />
<circle cx="-3.8" cy="-307" r="9.3" fill="#0404e0"/>
<polygon points="-14,-326 -14.3,-352 5.7,-352.2 6,-326.2" fill="#12d2f4" />
<polygon points="-15.4,-381.3 -15.7,-407.3 5.8,-407.6 6.1,-381.6" fill="#fc850c" />
<text x="12.8" y="-107.7" transform="rotate(-83.2 12.8 -107.7)" text-anchor="start" dy="0.35em" font-size="19.2" fill="#111" font-style="italic"  stroke="#111" stroke-width="0.46" stroke-linejoin="round">Z. mays</text>
<polygon points="21.9,-250.5 23.7,-265.8 39,-263.9 37.2,-248.7" fill="#e60a0a" />
<polygon points="34.3,-289.6 36,-283.1 42.6,-281.9 37,-278.3 37.9,-271.7 32.7,-275.9 26.6,-273 29,-279.2 24.4,-284.1 31.1,-283.7" fill="#8aa52a" />
<circle cx="36.1" cy="-304.9" r="9.3" fill="#0404e0"/>
<polygon points="28.4,-325 31.6,-351.8 51.5,-349.5 48.3,-322.7" fill="#12d2f4" />
<polygon points="34.2,-380.1 37.4,-406.9 58.7,-404.4 55.5,-377.6" fill="#fc850c" />
<text x="26.6" y="-105.2" transform="rotate(-75.8 26.6 -105.2)" text-anchor="start" dy="0.35em" font-size="19.2" fill="#111" font-style="italic"  stroke="#111" stroke-width="0.46" stroke-linejoin="round">S. bicolor</text>
<polygon points="54.2,-245.5 58,-260.4 72.9,-256.7 69.1,-241.7" fill="#e60a0a" />
<polygon points="71.6,-282.7 72.4,-276.1 78.8,-274 72.8,-271.1 72.8,-264.5 68.2,-269.3 61.8,-267.2 65,-273.1 61.1,-278.5 67.6,-277.3" fill="#8aa52a" />
<circle cx="75.3" cy="-297.6" r="9.3" fill="#0404e0"/>
<polygon points="70.3,-318.6 77,-344.8 96.3,-339.8 89.7,-313.7" fill="#12d2f4" />
<polygon points="83.2,-372.5 89.8,-398.6 110.7,-393.4 104,-367.2" fill="#fc850c" />
<text x="40" y="-100.8" transform="rotate(-68.3 40 -100.8)" text-anchor="start" dy="0.35em" font-size="19.2" fill="#111" font-style="italic"  stroke="#111" stroke-width="0.46" stroke-linejoin="round">O. sativa</text>
<polygon points="85.6,-236.4 91.3,-250.7 105.6,-245 99.9,-230.7" fill="#e60a0a" />
<polygon points="107.6,-271 107.6,-264.3 113.7,-261.5 107.3,-259.4 106.5,-252.8 102.5,-258.2 96,-257 99.9,-262.4 96.7,-268.2 103,-266.2" fill="#8aa52a" />
<circle cx="113.3" cy="-285.3" r="9.3" fill="#0404e0"/>
<polygon points="111.1,-306.8 121,-331.9 139.6,-324.5 129.7,-299.4" fill="#12d2f4" />
<polygon points="130.8,-358.5 140.8,-383.6 160.8,-375.7 150.8,-350.6" fill="#fc850c" />
<text x="52.8" y="-94.8" transform="rotate(-60.9 52.8 -94.8)" text-anchor="start" dy="0.35em" font-size="19.2" fill="#111" font-style="italic"  stroke="#111" stroke-width="0.46" stroke-linejoin="round">B. distachyon</text>
<polygon points="115.5,-223.3 123,-236.8 136.5,-229.3 129,-215.8" fill="#e60a0a" />
<polygon points="141.9,-254.8 141,-248.1 146.6,-244.5 140.1,-243.3 138.3,-236.8 135.2,-242.7 128.5,-242.3 133.1,-247.2 130.7,-253.4 136.7,-250.5" fill="#8aa52a" />
<circle cx="149.4" cy="-268.2" r="9.3" fill="#0404e0"/>
<polygon points="149.9,-289.8 163.1,-313.4 180.5,-303.6 167.4,-280" fill="#12d2f4" />
<polygon points="176.2,-338.5 189.4,-362.1 208.1,-351.7 195,-328.1" fill="#fc850c" />
<text x="64.6" y="-87.1" transform="rotate(-53.4 64.6 -87.1)" text-anchor="start" dy="0.35em" font-size="19.2" fill="#111" font-style="italic"  stroke="#111" stroke-width="0.46" stroke-linejoin="round">H. vulgare</text>
<polygon points="143.5,-206.4 152.7,-218.8 165.1,-209.6 155.9,-197.3" fill="#e60a0a" />
<polygon points="173.7,-234.2 172,-227.8 177.1,-223.4 170.4,-223.1 167.9,-216.9 165.5,-223.1 158.8,-223.6 164,-227.8 162.4,-234.3 168,-230.7" fill="#8aa52a" />
<circle cx="182.9" cy="-246.6" r="9.3" fill="#0404e0"/>
<polygon points="186.2,-267.9 202.3,-289.6 218.4,-277.6 202.3,-256" fill="#12d2f4" />
<polygon points="218.6,-312.8 234.7,-334.5 252,-321.7 235.9,-300" fill="#fc850c" />
<text x="75.4" y="-78" transform="rotate(-46 75.4 -78)" text-anchor="start" dy="0.35em" font-size="19.2" fill="#111" font-style="italic"  stroke="#111" stroke-width="0.46" stroke-linejoin="round">T. turgidum</text>
<polygon points="169.1,-186.1 179.8,-197.1 190.9,-186.4 180.2,-175.4" fill="#e60a0a" />
<polygon points="202.6,-209.7 200.1,-203.5 204.6,-198.6 197.9,-199.1 194.6,-193.3 193,-199.8 186.5,-201.1 192.2,-204.6 191.5,-211.3 196.5,-207" fill="#8aa52a" />
<circle cx="213.3" cy="-220.8" r="9.3" fill="#0404e0"/>
<polygon points="219.4,-241.5 238.2,-260.9 252.6,-247 233.8,-227.6" fill="#12d2f4" />
<polygon points="257.4,-281.8 276.1,-301.2 291.6,-286.3 272.8,-266.9" fill="#fc850c" />
<text x="84.9" y="-67.6" transform="rotate(-38.5 84.9 -67.6)" text-anchor="start" dy="0.35em" font-size="19.2" fill="#111" font-style="italic"  stroke="#111" stroke-width="0.46" stroke-linejoin="round">T. urartu</text>
<polygon points="191.8,-162.6 203.8,-172.2 213.4,-160.1 201.4,-150.5" fill="#e60a0a" />
<polygon points="228.1,-181.6 224.8,-175.8 228.6,-170.4 222.1,-171.7 218,-166.4 217.3,-173 211,-175.2 217.1,-178 217.2,-184.7 221.7,-179.7" fill="#8aa52a" />
<circle cx="240.2" cy="-191.2" r="9.3" fill="#0404e0"/>
<polygon points="248.9,-211 270,-227.8 282.5,-212.1 261.3,-195.3" fill="#12d2f4" />
<polygon points="291.7,-246.1 312.9,-262.9 326.3,-246 305.1,-229.2" fill="#fc850c" />
<text x="92.9" y="-56" transform="rotate(-31.1 92.9 -56)" text-anchor="start" dy="0.35em" font-size="19.2" fill="#111" font-style="italic"  stroke="#111" stroke-width="0.46" stroke-linejoin="round">A. trichopoda</text>
<polygon points="211.3,-136.3 224.4,-144.3 232.4,-131.1 219.2,-123.1" fill="#e60a0a" />
<polygon points="249.8,-150.5 245.7,-145.2 248.8,-139.3 242.5,-141.5 237.8,-136.7 237.9,-143.4 232,-146.4 238.4,-148.3 239.4,-154.9 243.2,-149.4" fill="#8aa52a" />
<circle cx="262.9" cy="-158.5" r="9.3" fill="#0404e0"/>
<polygon points="274.1,-176.9 298.1,-191.3 308.4,-174.2 284.5,-159.8" fill="#12d2f4" />
<polygon points="321.2,-206.1 345.2,-220.6 356.3,-202.2 332.3,-187.7" fill="#fc850c" />
<text x="99.4" y="-43.5" transform="rotate(-23.6 99.4 -43.5)" text-anchor="start" dy="0.35em" font-size="19.2" fill="#111" font-style="italic"  stroke="#111" stroke-width="0.46" stroke-linejoin="round">V. vinifera</text>
<polygon points="227.2,-107.8 241.3,-113.9 247.4,-99.8 233.3,-93.6" fill="#e60a0a" />
<polygon points="267.2,-116.8 262.5,-112.1 264.7,-105.8 258.8,-108.8 253.5,-104.7 254.5,-111.3 249,-115.1 255.6,-116.1 257.4,-122.6 260.5,-116.6" fill="#8aa52a" />
<circle cx="281.3" cy="-123" r="9.3" fill="#0404e0"/>
<polygon points="294.8,-139.8 322.3,-151.9 330.3,-133.5 302.8,-121.5" fill="#12d2f4" />
<polygon points="345.2,-162.7 372.7,-174.7 381.3,-155 353.8,-143" fill="#fc850c" />
<text x="104.2" y="-30.2" transform="rotate(-16.2 104.2 -30.2)" text-anchor="start" dy="0.35em" font-size="19.2" fill="#111" font-style="italic"  stroke="#111" stroke-width="0.46" stroke-linejoin="round">B. vulgaris</text>
<polygon points="239.2,-77.4 254,-81.7 258.3,-66.9 243.5,-62.6" fill="#e60a0a" />
<polygon points="280.1,-81.2 274.8,-77.1 276.2,-70.6 270.7,-74.3 265,-71 266.8,-77.4 261.8,-81.8 268.5,-82 271.2,-88.1 273.4,-81.9" fill="#8aa52a" />
<circle cx="294.9" cy="-85.5" r="9.3" fill="#0404e0"/>
<polygon points="310.4,-100.4 338.3,-108.5 343.8,-89.3 316,-81.2" fill="#12d2f4" />
<polygon points="363.4,-116.6 391.3,-124.6 397.3,-104 369.4,-95.9" fill="#fc850c" />
<text x="107.2" y="-16.4" transform="rotate(-8.7 107.2 -16.4)" text-anchor="start" dy="0.35em" font-size="19.2" fill="#111" font-style="italic"  stroke="#111" stroke-width="0.46" stroke-linejoin="round">A. thaliana</text>
<polygon points="247.2,-45.7 262.5,-48 264.8,-32.8 249.6,-30.5" fill="#e60a0a" />
<polygon points="288.2,-44.2 282.5,-40.8 283.1,-34.2 278.1,-38.6 271.9,-36 274.6,-42.1 270.2,-47.1 276.9,-46.5 280.3,-52.2 281.7,-45.7" fill="#8aa52a" />
<circle cx="303.5" cy="-46.5" r="9.3" fill="#0404e0"/>
<polygon points="320.8,-59.3 374.2,-67.5 377.2,-47.7 323.8,-39.5" fill="#12d2f4" />
<polygon points="375.5,-68.4 427.5,-76.4 430.7,-55.2 378.7,-47.2" fill="#fc850c" />
<text x="108.5" y="-2.4" transform="rotate(-1.3 108.5 -2.4)" text-anchor="start" dy="0.35em" font-size="19.2" fill="#111" font-style="italic"  stroke="#111" stroke-width="0.46" stroke-linejoin="round">A. lyrata</text>
<polygon points="251.1,-13.2 266.5,-13.6 266.8,1.8 251.4,2.2" fill="#e60a0a" />
<polygon points="291.5,-6.4 285.4,-3.8 285.1,2.8 280.7,-2.2 274.3,-0.4 277.7,-6.1 274,-11.7 280.5,-10.2 284.7,-15.4 285.3,-8.8" fill="#8aa52a" />
<circle cx="306.9" cy="-6.8" r="9.3" fill="#0404e0"/>
<polygon points="325.8,-17.2 377.4,-18.3 377.8,1.7 326.2,2.8" fill="#12d2f4" />
<polygon points="381.2,-19.2 427.9,-20.2 428.3,1.3 381.6,2.3" fill="#fc850c" />
<text x="107.9" y="11.7" transform="rotate(6.2 107.9 11.7)" text-anchor="start" dy="0.35em" font-size="19.2" fill="#111" font-style="italic"  stroke="#111" stroke-width="0.46" stroke-linejoin="round">B. oleracea</text>
<polygon points="250.7,19.4 266,21.1 264.3,36.4 249,34.7" fill="#e60a0a" />
<polygon points="289.9,31.4 283.5,33.2 282.3,39.8 278.6,34.2 272,35.2 276.2,29.9 273.2,24 279.5,26.3 284.3,21.6 284,28.3" fill="#8aa52a" />
<circle cx="305.2" cy="33.1" r="9.3" fill="#0404e0"/>
<polygon points="325.3,25.2 367,29.7 364.9,49.6 323.1,45.1" fill="#12d2f4" />
<polygon points="380.4,30.4 422.2,35 419.9,56.3 378.1,51.8" fill="#fc850c" />
<text x="105.4" y="25.6" transform="rotate(13.6 105.4 25.6)" text-anchor="start" dy="0.35em" font-size="19.2" fill="#111" font-style="italic"  stroke="#111" stroke-width="0.46" stroke-linejoin="round">B. napus</text>
<polygon points="246,51.8 261,55.4 257.4,70.4 242.4,66.8" fill="#e60a0a" />
<polygon points="283.4,68.8 276.8,69.7 274.8,76.1 271.8,70.1 265.2,70.2 270,65.5 267.8,59.2 273.7,62.3 279.1,58.3 277.9,64.9" fill="#8aa52a" />
<circle cx="298.3" cy="72.4" r="9.3" fill="#0404e0"/>
<polygon points="319.3,67.2 358.7,76.8 354,96.2 314.5,86.6" fill="#12d2f4" />
<polygon points="373.3,79.5 413.1,89.2 408,110.1 368.2,100.4" fill="#fc850c" />
<text x="101.2" y="39.1" transform="rotate(21.1 101.2 39.1)" text-anchor="start" dy="0.35em" font-size="19.2" fill="#111" font-style="italic"  stroke="#111" stroke-width="0.46" stroke-linejoin="round">B. rapa</text>
<polygon points="237.2,83.3 251.6,88.8 246.1,103.2 231.7,97.6" fill="#e60a0a" />
<polygon points="272.1,105 265.4,105 262.6,111.1 260.5,104.8 253.8,104 259.2,100 257.9,93.4 263.3,97.3 269.2,94 267.2,100.4" fill="#8aa52a" />
<circle cx="286.4" cy="110.5" r="9.3" fill="#0404e0"/>
<polygon points="307.8,108 348,123.5 340.8,142.2 300.6,126.7" fill="#12d2f4" />
<polygon points="359.8,127.3 403.7,144.2 395.9,164.3 352.1,147.3" fill="#fc850c" />
<text x="95.3" y="51.9" transform="rotate(28.5 95.3 51.9)" text-anchor="start" dy="0.35em" font-size="19.2" fill="#111" font-style="italic"  stroke="#111" stroke-width="0.46" stroke-linejoin="round">H. annuus</text>
<polygon points="224.4,113.3 238,120.7 230.6,134.2 217.1,126.9" fill="#e60a0a" />
<polygon points="256.1,139.4 249.5,138.6 246,144.2 244.7,137.7 238.2,136 244,132.8 243.6,126.1 248.5,130.6 254.7,128.2 251.9,134.2" fill="#8aa52a" />
<circle cx="269.7" cy="146.7" r="9.3" fill="#0404e0"/>
<polygon points="291.2,147.1 321.1,163.3 311.5,180.9 281.7,164.6" fill="#12d2f4" />
<polygon points="340.3,172.9 371.9,190.1 361.6,209 330,191.8" fill="#fc850c" />
<text x="87.8" y="63.8" transform="rotate(36 87.8 63.8)" text-anchor="start" dy="0.35em" font-size="19.2" fill="#111" font-style="italic"  stroke="#111" stroke-width="0.46" stroke-linejoin="round">C. cardunculus</text>
<polygon points="207.8,141.5 220.3,150.5 211.2,163 198.8,153.9" fill="#e60a0a" />
<polygon points="235.9,171.4 229.4,169.8 225.2,174.9 224.7,168.2 218.5,165.8 224.7,163.3 225.2,156.6 229.4,161.8 235.9,160.1 232.3,165.8" fill="#8aa52a" />
<circle cx="248.4" cy="180.5" r="9.3" fill="#0404e0"/>
<polygon points="269.7,183.6 295.6,202.4 283.8,218.6 257.9,199.8" fill="#12d2f4" />
<polygon points="315,215.5 341.7,234.9 329,252.3 302.3,232.9" fill="#fc850c" />
<text x="78.8" y="74.6" transform="rotate(43.5 78.8 74.6)" text-anchor="start" dy="0.35em" font-size="19.2" fill="#111" font-style="italic"  stroke="#111" stroke-width="0.46" stroke-linejoin="round">C. chinensis</text>
<polygon points="187.7,167.2 198.9,177.8 188.3,189 177.1,178.4" fill="#e60a0a" />
<polygon points="211.7,200.6 205.5,198.1 200.6,202.6 201,196 195.2,192.7 201.7,191.1 203,184.5 206.5,190.2 213.1,189.4 208.9,194.5" fill="#8aa52a" />
<circle cx="222.9" cy="211.1" r="9.3" fill="#0404e0"/>
<polygon points="243.6,217 266.8,239 253.1,253.6 229.8,231.5" fill="#12d2f4" />
<polygon points="284.3,254.6 308.3,277.3 293.5,292.9 269.5,270.2" fill="#fc850c" />
<text x="68.4" y="84.2" transform="rotate(50.9 68.4 84.2)" text-anchor="start" dy="0.35em" font-size="19.2" fill="#111" font-style="italic"  stroke="#111" stroke-width="0.46" stroke-linejoin="round">D. carota</text>
<polygon points="164.4,190.2 174.2,202.1 162.2,211.8 152.5,199.9" fill="#e60a0a" />
<polygon points="183.9,226.3 178.1,223.1 172.6,226.9 173.9,220.4 168.5,216.4 175.2,215.6 177.3,209.3 180.1,215.3 186.8,215.4 181.9,219.9" fill="#8aa52a" />
<circle cx="193.6" cy="238.3" r="9.3" fill="#0404e0"/>
<polygon points="213.4,246.8 233.6,271.6 218,284.2 197.9,259.4" fill="#12d2f4" />
<polygon points="248.9,289.3 269.7,314.9 253,328.5 232.2,302.9" fill="#fc850c" />
<text x="56.9" y="92.4" transform="rotate(58.4 56.9 92.4)" text-anchor="start" dy="0.35em" font-size="19.2" fill="#111" font-style="italic"  stroke="#111" stroke-width="0.46" stroke-linejoin="round">C. canephora</text>
<polygon points="138.4,209.9 146.5,223 133.4,231.1 125.3,218" fill="none" stroke="#f2dde3" stroke-width="1" stroke-dasharray="2 2"/>
<polygon points="153,248.3 147.6,244.3 141.7,247.4 143.9,241.1 139.1,236.4 145.7,236.5 148.7,230.5 150.7,236.9 157.3,237.8 151.8,241.7" fill="#8aa52a" />
<circle cx="161" cy="261.4" r="9.3" fill="#0404e0"/>
<polygon points="179.6,272.4 196.4,299.6 179.3,310.1 162.6,282.9" fill="#12d2f4" />
<polygon points="209.3,319.2 226.6,347.2 208.3,358.5 191,330.4" fill="#fc850c" />
<text x="44.5" y="99" transform="rotate(65.8 44.5 99)" text-anchor="start" dy="0.35em" font-size="19.2" fill="#111" font-style="italic"  stroke="#111" stroke-width="0.46" stroke-linejoin="round">N. attenuata</text>
<polygon points="110,226.1 116.3,240.1 102.2,246.4 95.9,232.4" fill="#e60a0a" />
<polygon points="119.5,266 114.7,261.4 108.4,263.7 111.4,257.7 107.2,252.5 113.8,253.4 117.5,247.8 118.7,254.4 125.1,256.2 119.2,259.3" fill="#8aa52a" />
<circle cx="125.8" cy="280" r="9.3" fill="#0404e0"/>
<polygon points="142.7,293.4 155.8,322.6 137.6,330.8 124.5,301.6" fill="#12d2f4" />
<polygon points="166.1,343.6 179.6,373.7 160,382.5 146.5,352.4" fill="#fc850c" />
<text x="31.2" y="103.9" transform="rotate(73.3 31.2 103.9)" text-anchor="start" dy="0.35em" font-size="19.2" fill="#111" font-style="italic"  stroke="#111" stroke-width="0.46" stroke-linejoin="round">C. annuum</text>
<polygon points="79.7,238.4 84.2,253.2 69.4,257.6 65,242.9" fill="#e60a0a" />
<polygon points="84,279.3 79.8,274 73.3,275.5 77,270 73.6,264.2 80,266 84.4,261 84.6,267.7 90.8,270.3 84.5,272.6" fill="#8aa52a" />
<circle cx="88.4" cy="294" r="9.3" fill="#0404e0"/>
<polygon points="103.5,309.4 112.7,340.1 93.5,345.8 84.3,315.2" fill="#12d2f4" />
<polygon points="120.1,362.2 129.6,393.9 109.1,400 99.6,368.4" fill="#fc850c" />
<text x="17.5" y="107.1" transform="rotate(80.7 17.5 107.1)" text-anchor="start" dy="0.35em" font-size="19.2" fill="#111" font-style="italic"  stroke="#111" stroke-width="0.46" stroke-linejoin="round">S. tuberosum</text>
<polygon points="48.1,246.8 50.6,262 35.4,264.5 32.9,249.3" fill="#e60a0a" />
<polygon points="47,287.8 43.6,282.1 36.9,282.7 41.3,277.7 38.7,271.6 44.8,274.2 49.8,269.7 49.2,276.4 55,279.8 48.5,281.3" fill="#8aa52a" />
<circle cx="49.5" cy="303" r="9.3" fill="#0404e0"/>
<polygon points="62.5,320.2 67.6,351.8 47.9,355 42.7,323.4" fill="#12d2f4" />
<polygon points="72.1,374.8 77.5,407.3 56.2,410.8 50.9,378.2" fill="#fc850c" />
<text x="3.5" y="108.4" transform="rotate(88.2 3.5 108.4)" text-anchor="start" dy="0.35em" font-size="19.2" fill="#111" font-style="italic"  stroke="#111" stroke-width="0.46" stroke-linejoin="round">S. lycopersicum</text>
<polygon points="15.7,250.9 16.2,266.3 0.8,266.8 0.3,251.4" fill="#e60a0a" />
<polygon points="9.3,291.5 6.6,285.3 0,285.1 5,280.7 3.1,274.3 8.9,277.7 14.4,273.9 12.9,280.4 18.2,284.5 11.6,285.2" fill="#8aa52a" />
<circle cx="9.8" cy="306.8" r="9.3" fill="#0404e0"/>
<polygon points="20.4,325.6 21.4,357.6 1.4,358.2 0.4,326.3" fill="#12d2f4" />
<polygon points="22.9,381 24,413.9 2.5,414.6 1.4,381.6" fill="#fc850c" />
<text x="-10.6" y="108" transform="rotate(-84.4 -10.6 108)" text-anchor="end" dy="0.35em" font-size="19.2" fill="#111" font-style="italic"  stroke="#111" stroke-width="0.46" stroke-linejoin="round">P. trichocarpa</text>
<polygon points="-17,250.8 -18.5,266.2 -33.8,264.7 -32.3,249.3" fill="#e60a0a" />
<polygon points="-28.6,290.2 -30.4,283.8 -37,282.7 -31.5,279 -32.5,272.4 -27.2,276.5 -21.3,273.5 -23.5,279.7 -18.8,284.5 -25.5,284.3" fill="#8aa52a" />
<circle cx="-30.1" cy="305.5" r="9.3" fill="#0404e0"/>
<polygon points="-22,325.5 -25,355.4 -44.9,353.4 -41.9,323.5" fill="#12d2f4" />
<polygon points="-26.7,380.7 -29.6,410.6 -51,408.5 -48.1,378.6" fill="#fc850c" />
<text x="-24.6" y="105.7" transform="rotate(-76.9 -24.6 105.7)" text-anchor="end" dy="0.35em" font-size="19.2" fill="#111" font-style="italic"  stroke="#111" stroke-width="0.46" stroke-linejoin="round">C. sativus</text>
<polygon points="-49.4,246.5 -52.8,261.5 -67.8,258 -64.4,243" fill="#e60a0a" />
<polygon points="-66,284 -67,277.4 -73.4,275.5 -67.4,272.5 -67.5,265.8 -62.9,270.6 -56.6,268.4 -59.6,274.3 -55.6,279.6 -62.2,278.6" fill="#8aa52a" />
<circle cx="-69.5" cy="299" r="9.3" fill="#0404e0"/>
<polygon points="-64,319.9 -70.8,349.1 -90.3,344.6 -83.5,315.4" fill="#12d2f4" />
<polygon points="-75.9,374 -82.6,403.3 -103.6,398.4 -96.8,369.2" fill="#fc850c" />
<text x="-38.1" y="101.6" transform="rotate(-69.5 -38.1 101.6)" text-anchor="end" dy="0.35em" font-size="19.2" fill="#111" font-style="italic"  stroke="#111" stroke-width="0.46" stroke-linejoin="round">M. esculenta</text>
<polygon points="-80.9,238 -86.3,252.5 -100.7,247.1 -95.3,232.6" fill="#e60a0a" />
<polygon points="-102.3,273.1 -102.4,266.4 -108.5,263.7 -102.2,261.5 -101.5,254.8 -97.4,260.2 -90.9,258.8 -94.7,264.3 -91.4,270.1 -97.8,268.1" fill="#8aa52a" />
<circle cx="-107.7" cy="287.5" r="9.3" fill="#0404e0"/>
<polygon points="-105,308.9 -115.5,337 -134.3,330 -123.7,301.9" fill="#12d2f4" />
<polygon points="-123.7,361 -134.3,389.1 -154.4,381.6 -143.9,353.5" fill="#fc850c" />
<text x="-50.9" y="95.8" transform="rotate(-62 -50.9 95.8)" text-anchor="end" dy="0.35em" font-size="19.2" fill="#111" font-style="italic"  stroke="#111" stroke-width="0.46" stroke-linejoin="round">C. capsularis</text>
<polygon points="-111.1,225.5 -118.3,239.1 -131.9,231.9 -124.7,218.3" fill="#e60a0a" />
<polygon points="-136.8,257.5 -136.1,250.9 -141.8,247.4 -135.2,246 -133.7,239.5 -130.4,245.3 -123.7,244.8 -128.2,249.8 -125.7,255.9 -131.7,253.2" fill="#8aa52a" />
<circle cx="-144.1" cy="271.1" r="9.3" fill="#0404e0"/>
<polygon points="-144.2,292.7 -158.3,319.2 -175.9,309.8 -161.8,283.3" fill="#12d2f4" />
<polygon points="-169.5,341.9 -183.6,368.4 -202.6,358.3 -188.5,331.9" fill="#fc850c" />
<text x="-62.9" y="88.4" transform="rotate(-54.6 -62.9 88.4)" text-anchor="end" dy="0.35em" font-size="19.2" fill="#111" font-style="italic"  stroke="#111" stroke-width="0.46" stroke-linejoin="round">T. cacao</text>
<polygon points="-139.4,209.2 -148.4,221.8 -160.9,212.8 -152,200.3" fill="#e60a0a" />
<polygon points="-169.1,237.6 -167.5,231.1 -172.7,226.9 -166,226.4 -163.6,220.2 -161.1,226.3 -154.4,226.7 -159.5,231 -157.8,237.5 -163.5,234" fill="#8aa52a" />
<circle cx="-178" cy="250.1" r="9.3" fill="#0404e0"/>
<polygon points="-180.9,271.5 -198.3,295.9 -214.6,284.3 -197.2,259.9" fill="#12d2f4" />
<polygon points="-212.4,317.1 -229.8,341.5 -247.3,329 -230,304.6" fill="#fc850c" />
<text x="-73.8" y="79.5" transform="rotate(-47.1 -73.8 79.5)" text-anchor="end" dy="0.35em" font-size="19.2" fill="#111" font-style="italic"  stroke="#111" stroke-width="0.46" stroke-linejoin="round">G. raimondii</text>
<polygon points="-165.4,189.4 -175.9,200.6 -187.2,190.2 -176.7,178.9" fill="#e60a0a" />
<polygon points="-198.5,213.6 -196,207.4 -200.6,202.6 -194,202.9 -190.8,197.1 -189.1,203.5 -182.5,204.8 -188.1,208.4 -187.3,215 -192.4,210.8" fill="#8aa52a" />
<circle cx="-208.9" cy="224.9" r="9.3" fill="#0404e0"/>
<polygon points="-214.6,245.7 -235,267.7 -249.7,254.1 -229.3,232.1" fill="#12d2f4" />
<polygon points="-251.8,286.8 -272.2,308.8 -287.9,294.2 -267.5,272.2" fill="#fc850c" />
<text x="-83.5" y="69.2" transform="rotate(-39.7 -83.5 69.2)" text-anchor="end" dy="0.35em" font-size="19.2" fill="#111" font-style="italic"  stroke="#111" stroke-width="0.46" stroke-linejoin="round">G. hirsutum</text>
<polygon points="-188.6,166.3 -200.4,176.1 -210.2,164.3 -198.4,154.4" fill="#e60a0a" />
<polygon points="-224.5,186.1 -221.3,180.2 -225.2,174.8 -218.7,176.1 -214.7,170.7 -213.9,177.3 -207.5,179.4 -213.6,182.2 -213.6,188.9 -218.1,184" fill="#8aa52a" />
<circle cx="-236.4" cy="195.9" r="9.3" fill="#0404e0"/>
<polygon points="-244.7,215.8 -267.8,235 -280.5,219.6 -257.4,200.4" fill="#12d2f4" />
<polygon points="-286.8,251.7 -309.9,270.9 -323.7,254.3 -300.6,235.2" fill="#fc850c" />
<text x="-91.8" y="57.8" transform="rotate(-32.2 -91.8 57.8)" text-anchor="end" dy="0.35em" font-size="19.2" fill="#111" font-style="italic"  stroke="#111" stroke-width="0.46" stroke-linejoin="round">P. persica</text>
<polygon points="-208.5,140.4 -221.6,148.6 -229.8,135.6 -216.7,127.4" fill="#e60a0a" />
<polygon points="-246.7,155.4 -242.8,150 -246,144.1 -239.6,146.2 -235.1,141.4 -235.1,148 -229,150.9 -235.4,153 -236.3,159.6 -240.2,154.2" fill="#8aa52a" />
<circle cx="-259.8" cy="163.6" r="9.3" fill="#0404e0"/>
<polygon points="-270.6,182.3 -295.1,197.7 -305.8,180.8 -281.3,165.3" fill="#12d2f4" />
<polygon points="-317.1,212.4 -341.6,227.9 -353.1,209.7 -328.5,194.2" fill="#fc850c" />
<text x="-98.5" y="45.4" transform="rotate(-24.8 -98.5 45.4)" text-anchor="end" dy="0.35em" font-size="19.2" fill="#111" font-style="italic"  stroke="#111" stroke-width="0.46" stroke-linejoin="round">M. truncatula</text>
<polygon points="-225,112.2 -239,118.7 -245.4,104.7 -231.4,98.2" fill="#e60a0a" />
<polygon points="-264.8,122.1 -260.2,117.2 -262.6,111 -256.6,113.9 -251.4,109.7 -252.3,116.3 -246.7,119.9 -253.2,121.2 -255,127.6 -258.1,121.7" fill="#8aa52a" />
<circle cx="-278.8" cy="128.5" r="9.3" fill="#0404e0"/>
<polygon points="-292,145.6 -318.3,157.8 -326.7,139.6 -300.3,127.4" fill="#12d2f4" />
<polygon points="-342,169.5 -368.3,181.6 -377.3,162.1 -351,150" fill="#fc850c" />
<text x="-103.6" y="32.3" transform="rotate(-17.3 -103.6 32.3)" text-anchor="end" dy="0.35em" font-size="19.2" fill="#111" font-style="italic"  stroke="#111" stroke-width="0.46" stroke-linejoin="round">L. angustifolius</text>
<polygon points="-237.6,82.1 -252.3,86.7 -256.9,71.9 -242.2,67.4" fill="#e60a0a" />
<polygon points="-278.4,86.7 -273.2,82.5 -274.8,76 -269.2,79.7 -263.5,76.2 -265.2,82.6 -260.2,86.9 -266.8,87.3 -269.4,93.4 -271.8,87.2" fill="#8aa52a" />
<circle cx="-293.1" cy="91.3" r="9.3" fill="#0404e0"/>
<polygon points="-308.4,106.5 -336.1,115.1 -342,96 -314.3,87.4" fill="#12d2f4" />
<polygon points="-361,123.7 -388.7,132.3 -395.1,111.8 -367.4,103.2" fill="#fc850c" />
<text x="-106.9" y="18.6" transform="rotate(-9.8 -106.9 18.6)" text-anchor="end" dy="0.35em" font-size="19.2" fill="#111" font-style="italic"  stroke="#111" stroke-width="0.46" stroke-linejoin="round">V. radiata</text>
<polygon points="-246.3,50.6 -261.5,53.2 -264.1,38 -248.9,35.4" fill="#e60a0a" />
<polygon points="-287.3,49.9 -281.6,46.4 -282.3,39.7 -277.3,44.1 -271.2,41.3 -273.7,47.5 -269.2,52.4 -275.9,51.9 -279.2,57.7 -280.8,51.2" fill="#8aa52a" />
<circle cx="-302.5" cy="52.5" r="9.3" fill="#0404e0"/>
<polygon points="-319.6,65.6 -348.2,70.6 -351.6,50.9 -323,45.9" fill="#12d2f4" />
<polygon points="-374,75.8 -402.6,80.8 -406.3,59.6 -377.7,54.6" fill="#fc850c" />
<text x="-108.4" y="4.5" transform="rotate(-2.4 -108.4 4.5)" text-anchor="end" dy="0.35em" font-size="19.2" fill="#111" font-style="italic"  stroke="#111" stroke-width="0.46" stroke-linejoin="round">P. vulgaris</text>
<polygon points="-250.8,18.2 -266.1,18.8 -266.8,3.4 -251.4,2.8" fill="#e60a0a" />
<polygon points="-291.3,12.2 -285.3,9.4 -285.1,2.8 -280.6,7.7 -274.2,5.8 -277.6,11.6 -273.8,17.1 -280.3,15.7 -284.3,21 -285,14.4" fill="#8aa52a" />
<circle cx="-306.7" cy="12.8" r="9.3" fill="#0404e0"/>
<polygon points="-325.4,23.6 -354.4,24.8 -355.2,4.8 -326.2,3.6" fill="#12d2f4" />
<polygon points="-380.7,26.7 -409.7,27.9 -410.6,6.4 -381.6,5.2" fill="#fc850c" />
<text x="-108.1" y="-9.6" transform="rotate(5.1 -108.1 -9.6)" text-anchor="end" dy="0.35em" font-size="19.2" fill="#111" font-style="italic"  stroke="#111" stroke-width="0.46" stroke-linejoin="round">V. angularis</text>
<polygon points="-251,-14.5 -266.3,-15.9 -265,-31.2 -249.6,-29.8" fill="#e60a0a" />
<polygon points="-290.5,-25.7 -284.1,-27.6 -283.1,-34.2 -279.3,-28.7 -272.7,-29.8 -276.7,-24.5 -273.7,-18.6 -280,-20.8 -284.7,-16 -284.5,-22.7" fill="#8aa52a" />
<circle cx="-305.8" cy="-27.1" r="9.3" fill="#0404e0"/>
<polygon points="-325.7,-18.8 -354.6,-21.4 -352.8,-41.3 -323.9,-38.7" fill="#12d2f4" />
<polygon points="-381,-22.9 -409.8,-25.5 -408,-46.9 -379.1,-44.4" fill="#fc850c" />
<text x="-105.9" y="-23.5" transform="rotate(12.5 -105.9 -23.5)" text-anchor="end" dy="0.35em" font-size="19.2" fill="#111" font-style="italic"  stroke="#111" stroke-width="0.46" stroke-linejoin="round">G. max</text>
<polygon points="-247,-46.9 -262,-50.3 -258.7,-65.3 -243.7,-62" fill="#e60a0a" />
<polygon points="-284.7,-63.2 -278.1,-64.2 -276.2,-70.7 -273.2,-64.7 -266.5,-64.9 -271.2,-60.2 -268.9,-53.9 -274.9,-56.9 -280.2,-52.8 -279.2,-59.4" fill="#8aa52a" />
<circle cx="-299.7" cy="-66.5" r="9.3" fill="#0404e0"/>
<polygon points="-320.5,-60.9 -348.8,-67.2 -344.5,-86.7 -316.2,-80.4" fill="#12d2f4" />
<polygon points="-374.8,-72.2 -403.1,-78.5 -398.4,-99.4 -370.1,-93.2" fill="#fc850c" />
<g transform="rotate(22.65)">
<rect x="-431.5" y="12.2" width="51.1" height="22.3" fill="#d5691f"/>
<rect x="-380.4" y="12.2" width="53.9" height="22.3" fill="#4ccbf0"/>
<text x="-405.9" y="23.3" dy="0.35em" text-anchor="middle" font-size="19" fill="#000" fill-opacity="0.75" stroke="#000" stroke-width="0.45" stroke-linejoin="round" stroke-opacity="0.75">FLS2</text>
<text x="-353.4" y="23.3" dy="0.35em" text-anchor="middle" font-size="19" fill="#000" fill-opacity="0.8" stroke="#000" stroke-width="0.45" stroke-linejoin="round" stroke-opacity="0.8">NUT</text>
<text transform="translate(-419.5,-25) rotate(-90)" dy="0.35em" text-anchor="end" font-size="28" stroke="#000" stroke-width="0.60" stroke-linejoin="round">50</text>
<text transform="translate(-391.1,-25) rotate(-90)" dy="0.35em" text-anchor="end" font-size="28" stroke="#000" stroke-width="0.60" stroke-linejoin="round">0</text>
<text transform="translate(-363.8,-25) rotate(-90)" dy="0.35em" text-anchor="end" font-size="28" stroke="#000" stroke-width="0.60" stroke-linejoin="round">50</text>
<text transform="translate(-336.2,-25) rotate(-90)" dy="0.35em" text-anchor="end" font-size="28" stroke="#000" stroke-width="0.60" stroke-linejoin="round">0</text>
</g>
<text x="-320.8" y="-355" transform="rotate(-42.1 -320.8 -355)" text-anchor="middle" dy="0.35em" font-size="30" fill="#66bb40" stroke="none">Others</text>
<text x="187.1" y="-445" transform="rotate(22.8 187.1 -445)" text-anchor="middle" dy="0.35em" font-size="30" fill="#f01010" stroke="none">Monocots</text>
<text x="220.9" y="421.6" transform="rotate(-27.7 220.9 421.6)" text-anchor="middle" dy="0.35em" font-size="30.5" fill="#ee00ee" stroke="none">Dicots</text>
</g>
<text transform="translate(1592.3,588) rotate(19.3)" text-anchor="middle" dy="0.35em" font-size="24.5" stroke="#000" stroke-width="0.54" stroke-linejoin="round">Poaceae</text>
<text transform="translate(1789,828) rotate(90)" text-anchor="middle" dy="0.35em" font-size="24.5" stroke="#000" stroke-width="0.54" stroke-linejoin="round">Brassicaceae</text>
<text transform="translate(1635,1027.6) rotate(162.5)" text-anchor="middle" dy="0.35em" font-size="24" stroke="#000" stroke-width="0.53" stroke-linejoin="round">Solanaceae</text>
<text transform="translate(1318,794.6) rotate(-90)" text-anchor="middle" dy="0.35em" font-size="24" stroke="#000" stroke-width="0.53" stroke-linejoin="round">Fabaceae</text>
<text x="1863.3" y="334.8" font-size="29.7" stroke="#000" stroke-width="0.63" stroke-linejoin="round">Homology</text>
<line x1="1852.6" y1="347.6" x2="2114.4" y2="347.6" stroke="#000" stroke-width="1.8"/>
<line x1="1856" y1="351.2" x2="1890" y2="351.2" stroke="#aaa" stroke-width="1"/>
<rect x="1857.3" y="359.1" width="25.2" height="20" fill="#e8101e"/>
<g transform="translate(1869.9,400) scale(1.2,1)"><polygon points="0,-10.5 2.7,-3.7 10,-3.2 4.4,1.4 6.2,8.5 0,4.6 -6.2,8.5 -4.4,1.4 -10,-3.2 -2.7,-3.7" fill="#8aa52a" /></g>
<ellipse cx="1869.9" cy="430" rx="12.6" ry="10.3" fill="#1a1ae6"/>
<text x="1886.5" y="379.7" font-size="29.7" stroke="#000" stroke-width="0.63" stroke-linejoin="round">SCREW homolog</text>
<text x="1887.2" y="409.6" font-size="29.7" stroke="#000" stroke-width="0.63" stroke-linejoin="round">NUT homolog</text>
<text x="1886.5" y="441.5" font-size="29.7" stroke="#000" stroke-width="0.63" stroke-linejoin="round">FLS2 homolog</text>
<text x="33.5" y="1315.5" font-size="35" font-weight="bold">d</text>
<text x="152.7" y="1336" font-size="36" stroke="#000" stroke-width="0.70" stroke-linejoin="round"><tspan font-style="italic">WiscDsLox450B04</tspan> (<tspan font-style="italic">nut-1</tspan>)</text>
<text x="188.3" y="1536.2" font-size="36" stroke="#000" stroke-width="0.70" stroke-linejoin="round"><tspan font-style="italic">SALK_207895</tspan> (<tspan font-style="italic">nut-2</tspan>)</text>
<text x="58.5" y="1403.9" font-size="36" font-style="italic" stroke="#000" stroke-width="0.70" stroke-linejoin="round">NUT</text>
<rect x="120.5" y="1412.3" width="15.2" height="17" fill="#fff" stroke="#000" stroke-width="1.2"/>
<rect x="135.7" y="1412.3" width="441.2" height="17" fill="#585858" stroke="#333" stroke-width="1"/>
<rect x="576.9" y="1418.6" width="16.2" height="3" fill="#000"/>
<rect x="593.1" y="1412.3" width="65.2" height="17" fill="#585858" stroke="#333" stroke-width="1"/>
<rect x="658.3" y="1412.3" width="27.8" height="17" fill="#fff" stroke="#000" stroke-width="1.2"/>
<polygon points="244.3,1374.3 407.2,1374.3 325.1,1403.9" fill="#fff" stroke="#000" stroke-width="1.3"/>
<line x1="325.1" y1="1403.9" x2="325.1" y2="1422.5" stroke="#000" stroke-width="1.3"/>
<polygon points="312.2,1469 475.1,1469 393.6,1438.8" fill="#fff" stroke="#000" stroke-width="1.3"/>
<line x1="393.6" y1="1421.8" x2="393.6" y2="1438.8" stroke="#000" stroke-width="1.3"/>
<text x="330.8" y="1369" font-size="29.5" stroke="#000" stroke-width="0.62" stroke-linejoin="round">LB</text><line x1="324" y1="1362" x2="309.3" y2="1362" stroke="#000" stroke-width="1.6"/><polygon points="300.3,1362 309.3,1357.5 309.3,1366.5" fill="#000"/>
<text x="234.1" y="1409" font-size="29.5" stroke="#000" stroke-width="0.62" stroke-linejoin="round">RP</text><line x1="280" y1="1400.5" x2="294.7" y2="1400.5" stroke="#000" stroke-width="1.6"/><polygon points="303.7,1400.5 294.7,1396 294.7,1405" fill="#000"/>
<text x="454.7" y="1409" font-size="29.5" stroke="#000" stroke-width="0.62" stroke-linejoin="round">LP</text><line x1="447.9" y1="1400.5" x2="433.2" y2="1400.5" stroke="#000" stroke-width="1.6"/><polygon points="424.2,1400.5 433.2,1396 433.2,1405" fill="#000"/>
<text x="234.1" y="1456.5" font-size="29.5" stroke="#000" stroke-width="0.62" stroke-linejoin="round">LP</text><line x1="280" y1="1445.3" x2="294.7" y2="1445.3" stroke="#000" stroke-width="1.6"/><polygon points="303.7,1445.3 294.7,1440.8 294.7,1449.8" fill="#000"/>
<text x="454" y="1456.5" font-size="29.5" stroke="#000" stroke-width="0.62" stroke-linejoin="round">RP</text><line x1="447.9" y1="1445.3" x2="433.2" y2="1445.3" stroke="#000" stroke-width="1.6"/><polygon points="424.2,1445.3 433.2,1440.8 433.2,1449.8" fill="#000"/>
<text x="345.4" y="1495.5" font-size="29.5" stroke="#000" stroke-width="0.62" stroke-linejoin="round">LB</text><line x1="393.6" y1="1481.9" x2="410" y2="1481.9" stroke="#000" stroke-width="1.6"/><polygon points="419,1481.9 410,1477.4 410,1486.4" fill="#000"/>
<defs><filter id="bandblur" x="-30%" y="-80%" width="160%" height="260%"><feGaussianBlur stdDeviation="2.2"/></filter><filter id="gelblur" x="-5%" y="-5%" width="110%" height="110%"><feGaussianBlur stdDeviation="6"/></filter></defs>
<text x="745.5" y="1315.5" font-size="35" font-weight="bold">e</text>
<text x="884.5" y="1367.7" font-size="35" text-anchor="middle" stroke="#000" stroke-width="0.70" stroke-linejoin="round">WT</text>
<text x="976" y="1367.7" font-size="35" font-style="italic" text-anchor="middle" stroke="#000" stroke-width="0.70" stroke-linejoin="round">nut-1</text>
<text x="1069" y="1367.7" font-size="35" font-style="italic" text-anchor="middle" stroke="#000" stroke-width="0.70" stroke-linejoin="round">nut-2</text>
<line x1="843" y1="1372.6" x2="920.1" y2="1372.6" stroke="#000" stroke-width="2"/>
<line x1="938" y1="1372.6" x2="1014.4" y2="1372.6" stroke="#000" stroke-width="2"/>
<line x1="1029.1" y1="1372.6" x2="1106.3" y2="1372.6" stroke="#000" stroke-width="2"/>
<rect x="837.5" y="1378.8" width="278.6" height="50.2" fill="#232323"/>
<rect x="837.5" y="1439.8" width="278.6" height="39.9" fill="#1c1c1c"/>
<g filter="url(#gelblur)" opacity="0.5"><rect x="935" y="1384" width="36" height="40" fill="#3a3a3a"/><rect x="1026" y="1382" width="40" height="42" fill="#444"/><rect x="1072" y="1382" width="40" height="42" fill="#444"/></g>
<rect x="937.3" y="1405" width="33" height="9.8" rx="4" fill="#f4f4f4" filter="url(#bandblur)"/>
<rect x="939.3" y="1406.5" width="29" height="6.8" rx="3" fill="#f4f4f4"/>
<rect x="982.6" y="1406.5" width="33" height="7" rx="4" fill="#8a8a8a" filter="url(#bandblur)"/>
<rect x="984.6" y="1408" width="29" height="4" rx="3" fill="#8a8a8a"/>
<rect x="1027.9" y="1395.2" width="35.6" height="13.4" rx="4" fill="#fafafa" filter="url(#bandblur)"/>
<rect x="1029.9" y="1396.7" width="31.6" height="10.4" rx="3" fill="#fafafa"/>
<rect x="1073.3" y="1397.1" width="36.7" height="12.8" rx="4" fill="#f8f8f8" filter="url(#bandblur)"/>
<rect x="1075.3" y="1398.6" width="32.7" height="9.8" rx="3" fill="#f8f8f8"/>
<rect x="850.3" y="1452.8" width="31.3" height="8.5" rx="4" fill="#dddddd" filter="url(#bandblur)"/>
<rect x="852.3" y="1454.3" width="27.3" height="5.5" rx="3" fill="#dddddd"/>
<rect x="896.8" y="1452.8" width="32.4" height="8.5" rx="4" fill="#e6e6e6" filter="url(#bandblur)"/>
<rect x="898.8" y="1454.3" width="28.4" height="5.5" rx="3" fill="#e6e6e6"/>
<text x="827" y="1408.6" font-size="27" text-anchor="end" stroke="#000" stroke-width="0.58" stroke-linejoin="round">1 kb</text>
<line x1="829" y1="1401.8" x2="837.5" y2="1401.8" stroke="#000" stroke-width="1.8"/>
<text x="827" y="1462" font-size="27" text-anchor="end" stroke="#000" stroke-width="0.58" stroke-linejoin="round">1 kb</text>
<line x1="829" y1="1455.2" x2="837.5" y2="1455.2" stroke="#000" stroke-width="1.8"/>
<text x="1122.3" y="1414.8" font-size="35" stroke="#000" stroke-width="0.70" stroke-linejoin="round">LB+RP</text>
<text x="1121" y="1471.6" font-size="35" stroke="#000" stroke-width="0.70" stroke-linejoin="round">LP+RP</text>
<text x="1283" y="1315.5" font-size="35" font-weight="bold">f</text>
<text x="1493.3" y="1304.6" font-size="36" font-style="italic" stroke="#000" stroke-width="0.70" stroke-linejoin="round">NUT</text>
<text transform="translate(1362.6,1404.8) rotate(-90)" text-anchor="middle" font-size="36" stroke="#000" stroke-width="0.70" stroke-linejoin="round">Relative gene</text>
<text transform="translate(1399,1406) rotate(-90)" text-anchor="middle" font-size="36" stroke="#000" stroke-width="0.70" stroke-linejoin="round">expression</text>
<line x1="1460.2" y1="1309.1" x2="1460.2" y2="1499.3" stroke="#000" stroke-width="1.5"/>
<line x1="1455.7" y1="1499.3" x2="1605" y2="1499.3" stroke="#000" stroke-width="1.5"/>
<line x1="1455.7" y1="1309.1" x2="1460.2" y2="1309.1" stroke="#000" stroke-width="1.5"/>
<text x="1454" y="1309.1" dy="0.36em" font-size="32" text-anchor="end" stroke="#000" stroke-width="0.66" stroke-linejoin="round">1.2</text>
<line x1="1455.7" y1="1372.6" x2="1460.2" y2="1372.6" stroke="#000" stroke-width="1.5"/>
<text x="1454" y="1372.6" dy="0.36em" font-size="32" text-anchor="end" stroke="#000" stroke-width="0.66" stroke-linejoin="round">0.8</text>
<line x1="1455.7" y1="1435.8" x2="1460.2" y2="1435.8" stroke="#000" stroke-width="1.5"/>
<text x="1454" y="1435.8" dy="0.36em" font-size="32" text-anchor="end" stroke="#000" stroke-width="0.66" stroke-linejoin="round">0.4</text>
<line x1="1455.7" y1="1499.3" x2="1460.2" y2="1499.3" stroke="#000" stroke-width="1.5"/>
<text x="1454" y="1499.3" dy="0.36em" font-size="32" text-anchor="end" stroke="#000" stroke-width="0.66" stroke-linejoin="round">0</text>
<rect x="1475.5" y="1342.3" width="27.7" height="157" fill="#c4640c" stroke="#3a2000" stroke-width="1"/>
<line x1="1489.3" y1="1332.3" x2="1489.3" y2="1350.7" stroke="#000" stroke-width="1.3"/>
<line x1="1486" y1="1332.3" x2="1492.6" y2="1332.3" stroke="#000" stroke-width="1.3"/>
<line x1="1486" y1="1350.7" x2="1492.6" y2="1350.7" stroke="#000" stroke-width="1.3"/>
<circle cx="1489.3" cy="1332.9" r="1.9" fill="#000"/>
<circle cx="1489.3" cy="1341.2" r="1.9" fill="#000"/>
<circle cx="1489.3" cy="1350.1" r="1.9" fill="#000"/>
<line x1="1489.3" y1="1499.3" x2="1489.3" y2="1504.5" stroke="#000" stroke-width="1.3"/>
<line x1="1532.4" y1="1499.3" x2="1532.4" y2="1504.5" stroke="#000" stroke-width="1.3"/>
<line x1="1575.3" y1="1499.3" x2="1575.3" y2="1504.5" stroke="#000" stroke-width="1.3"/>
<circle cx="1523" cy="1499.3" r="2" fill="#000"/>
<circle cx="1532.4" cy="1499.3" r="2" fill="#000"/>
<circle cx="1541.7" cy="1499.3" r="2" fill="#000"/>
<circle cx="1565.5" cy="1499.3" r="2" fill="#000"/>
<circle cx="1575.3" cy="1499.3" r="2" fill="#000"/>
<circle cx="1584.2" cy="1499.3" r="2" fill="#000"/>
<path d="M1489.3,1332 L1489.3,1315.9 L1575.3,1315.9 L1575.3,1327.3" fill="none" stroke="#333" stroke-width="1.2"/>
<path d="M1489.3,1322.4 L1532.8,1322.4 L1532.8,1327.3" fill="none" stroke="#333" stroke-width="1.2"/>
<text transform="translate(1528.9,1338.2) rotate(90)" font-size="26.5" dy="0.36em" stroke="#000" stroke-width="0.57" stroke-linejoin="round"><tspan font-style="italic">P</tspan> &lt; 0.0001</text>
<text transform="translate(1572.4,1338.2) rotate(90)" font-size="26.5" dy="0.36em" stroke="#000" stroke-width="0.57" stroke-linejoin="round"><tspan font-style="italic">P</tspan> &lt; 0.0001</text>
<text transform="translate(1480.5,1510.5) rotate(-45)" text-anchor="end" font-size="36" dy="0.7em" stroke="#000" stroke-width="0.70" stroke-linejoin="round">WT</text>
<text transform="translate(1529,1510) rotate(-45)" text-anchor="end" font-size="36" font-style="italic" dy="0.7em" stroke="#000" stroke-width="0.70" stroke-linejoin="round">nut-1</text>
<text transform="translate(1576,1517) rotate(-45)" text-anchor="end" font-size="36" font-style="italic" dy="0.7em" stroke="#000" stroke-width="0.70" stroke-linejoin="round">nut-2</text>
</svg></body></html>
